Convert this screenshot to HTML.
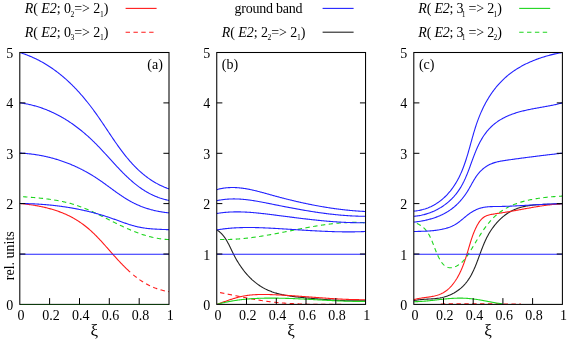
<!DOCTYPE html>
<html><head><meta charset="utf-8"><title>R(E2) ratios</title>
<style>
html,body{margin:0;padding:0;background:#fff;}
svg{display:block;will-change:transform;}
g.t{filter:grayscale(1);}
text{font-family:"Liberation Serif",serif;font-size:14px;fill:#000;}
</style></head>
<body>
<svg width="571" height="341" viewBox="0 0 571 341">
<rect width="571" height="341" fill="#fff"/>
<defs>
<clipPath id="cp0"><rect x="19.8" y="52" width="149.2" height="251.9"/></clipPath>
<clipPath id="cp1"><rect x="216.75" y="52" width="148.8" height="251.9"/></clipPath>
<clipPath id="cp2"><rect x="413.8" y="52" width="148.55" height="251.9"/></clipPath>
</defs>
<g fill="none" stroke-linecap="butt" stroke-linejoin="round">
<path d="M19.80,203.50 L20.60,203.57 L21.40,203.65 L22.20,203.73 L23.00,203.81 L23.80,203.89 L24.61,203.98 L25.41,204.07 L26.22,204.17 L27.03,204.26 L27.83,204.37 L28.64,204.47 L29.45,204.58 L30.26,204.69 L31.07,204.81 L31.89,204.93 L32.70,205.05 L33.51,205.18 L34.32,205.31 L35.13,205.45 L35.94,205.59 L36.76,205.73 L37.57,205.88 L38.38,206.03 L39.19,206.19 L40.00,206.35 L40.81,206.51 L41.62,206.68 L42.43,206.86 L43.23,207.03 L44.04,207.22 L44.84,207.40 L45.65,207.60 L46.45,207.79 L47.25,207.99 L48.05,208.20 L48.85,208.41 L49.65,208.63 L50.45,208.85 L51.24,209.07 L52.03,209.30 L52.82,209.54 L53.61,209.78 L54.40,210.02 L55.18,210.27 L55.96,210.53 L56.74,210.79 L57.52,211.06 L58.29,211.33 L59.07,211.61 L59.83,211.89 L60.60,212.18 L61.36,212.47 L62.12,212.77 L62.88,213.08 L63.64,213.39 L64.39,213.71 L65.14,214.03 L65.88,214.36 L66.62,214.69 L67.36,215.04 L68.09,215.38 L68.82,215.74 L69.55,216.09 L70.27,216.46 L70.99,216.83 L71.70,217.21 L72.41,217.59 L73.12,217.98 L73.82,218.38 L74.52,218.78 L75.22,219.19 L75.91,219.60 L76.59,220.02 L77.28,220.44 L77.96,220.87 L78.63,221.31 L79.30,221.75 L79.97,222.20 L80.63,222.65 L81.29,223.11 L81.95,223.58 L82.60,224.05 L83.25,224.52 L83.89,225.00 L84.53,225.49 L85.17,225.98 L85.80,226.48 L86.43,226.98 L87.05,227.49 L87.67,228.00 L88.29,228.52 L88.90,229.04 L89.51,229.57 L90.12,230.10 L90.72,230.64 L91.32,231.18 L91.91,231.73 L92.50,232.28 L93.09,232.84 L93.67,233.40 L94.26,233.96 L94.83,234.53 L95.41,235.10 L95.98,235.68 L96.55,236.26 L97.12,236.84 L97.69,237.42 L98.25,238.01 L98.81,238.60 L99.37,239.20 L99.93,239.79 L100.49,240.39 L101.04,240.99 L101.59,241.60 L102.14,242.20 L102.69,242.81 L103.24,243.42 L103.79,244.03 L104.34,244.64 L104.89,245.26 L105.43,245.87 L105.98,246.49 L106.52,247.11 L107.07,247.72 L107.62,248.34 L108.16,248.96 L108.71,249.58 L109.25,250.20 L109.80,250.82 L110.34,251.44 L110.89,252.06 L111.43,252.68 L111.98,253.29 L112.53,253.91 L113.08,254.53 L113.63,255.15 L114.18,255.76 L114.73,256.38 L115.28,256.99 L115.83,257.60 L116.38,258.22 L116.94,258.83 L117.49,259.43 L118.05,260.04 L118.61,260.64 L119.17,261.25 L119.73,261.85 L120.29,262.45 L120.86,263.04 L121.43,263.64 L121.99,264.23 L122.56,264.81 L123.14,265.40 L123.71,265.98 L124.29,266.56 L124.87,267.14 L125.45,267.71 L126.03,268.28 L126.62,268.85 L127.20,269.41 L127.80,269.97 L128.39,270.52 L128.98,271.07 L129.58,271.62 L130.19,272.16" stroke="#ff1a1a" stroke-width="1.1" clip-path="url(#cp0)"/>
<path d="M130.79,272.70 L131.40,273.23 L132.01,273.76 L132.62,274.28 L133.24,274.80 L133.86,275.31 L134.48,275.82 L135.11,276.32 L135.74,276.82 L136.38,277.31 L137.02,277.80 L137.66,278.28 L138.30,278.75 L138.95,279.22 L139.61,279.68 L140.26,280.14 L140.93,280.59 L141.59,281.03 L142.26,281.47 L142.94,281.90 L143.62,282.32 L144.30,282.74 L144.99,283.15 L145.68,283.55 L146.38,283.94 L147.08,284.33 L147.79,284.71 L148.50,285.08 L149.22,285.44 L149.94,285.80 L150.67,286.14 L151.40,286.48 L152.14,286.81 L152.88,287.13 L153.63,287.45 L154.39,287.75 L155.15,288.05 L155.91,288.33 L156.68,288.61 L157.46,288.88 L158.25,289.14 L159.03,289.39 L159.83,289.63 L160.63,289.86 L161.44,290.08 L162.25,290.29 L163.07,290.49 L163.90,290.68 L164.73,290.86 L165.57,291.03 L166.42,291.19 L167.27,291.34 L168.13,291.47 L169.00,291.60" stroke="#ff1a1a" stroke-width="1.1" stroke-dasharray="4.4 3.45" stroke-dashoffset="4.6" clip-path="url(#cp0)"/>
<path d="M19.80,196.50 L20.51,196.55 L21.22,196.60 L21.94,196.65 L22.65,196.69 L23.37,196.74 L24.08,196.79 L24.79,196.84 L25.51,196.89 L26.22,196.95 L26.94,197.00 L27.66,197.05 L28.37,197.11 L29.09,197.16 L29.80,197.22 L30.52,197.27 L31.24,197.33 L31.96,197.39 L32.67,197.45 L33.39,197.51 L34.11,197.57 L34.82,197.63 L35.54,197.70 L36.26,197.76 L36.97,197.83 L37.69,197.90 L38.41,197.97 L39.13,198.04 L39.84,198.11 L40.56,198.19 L41.28,198.26 L41.99,198.34 L42.71,198.42 L43.42,198.50 L44.14,198.58 L44.85,198.67 L45.57,198.76 L46.28,198.84 L47.00,198.94 L47.71,199.03 L48.42,199.12 L49.13,199.22 L49.85,199.32 L50.56,199.42 L51.27,199.53 L51.98,199.63 L52.69,199.74 L53.40,199.85 L54.11,199.97 L54.82,200.09 L55.52,200.20 L56.23,200.33 L56.94,200.45 L57.64,200.58 L58.35,200.71 L59.05,200.84 L59.75,200.98 L60.45,201.12 L61.16,201.26 L61.86,201.40 L62.56,201.55 L63.25,201.70 L63.95,201.86 L64.65,202.02 L65.34,202.18 L66.04,202.34 L66.73,202.51 L67.42,202.68 L68.12,202.85 L68.81,203.03 L69.49,203.21 L70.18,203.40 L70.87,203.59 L71.55,203.78 L72.24,203.98 L72.92,204.18 L73.60,204.38 L74.28,204.59 L74.96,204.80 L75.64,205.02 L76.32,205.24 L76.99,205.47 L77.66,205.69 L78.34,205.93 L79.01,206.16 L79.68,206.40 L80.34,206.65 L81.01,206.89 L81.68,207.15 L82.34,207.40 L83.00,207.66 L83.67,207.92 L84.33,208.18 L84.99,208.45 L85.65,208.72 L86.31,208.99 L86.96,209.27 L87.62,209.55 L88.27,209.83 L88.93,210.11 L89.58,210.40 L90.23,210.69 L90.89,210.98 L91.54,211.27 L92.19,211.57 L92.84,211.87 L93.49,212.17 L94.14,212.47 L94.78,212.77 L95.43,213.08 L96.08,213.38 L96.72,213.69 L97.37,214.00 L98.01,214.31 L98.66,214.63 L99.30,214.94 L99.95,215.25 L100.59,215.57 L101.23,215.89 L101.88,216.21 L102.52,216.52 L103.16,216.84 L103.80,217.16 L104.45,217.48 L105.09,217.81 L105.73,218.13 L106.37,218.45 L107.01,218.77 L107.65,219.09 L108.30,219.42 L108.94,219.74 L109.58,220.06 L110.22,220.38 L110.86,220.70 L111.50,221.03 L112.15,221.35 L112.79,221.67 L113.43,221.99 L114.07,222.31 L114.72,222.63 L115.36,222.94 L116.00,223.26 L116.65,223.58 L117.29,223.89 L117.94,224.20 L118.58,224.52 L119.23,224.83 L119.87,225.14 L120.52,225.45 L121.17,225.76 L121.81,226.06 L122.46,226.37 L123.11,226.67 L123.76,226.97 L124.41,227.27 L125.06,227.57 L125.71,227.86 L126.36,228.16 L127.01,228.45 L127.66,228.74 L128.32,229.03 L128.97,229.31 L129.63,229.59 L130.28,229.87 L130.94,230.15 L131.60,230.43 L132.26,230.70 L132.92,230.97 L133.58,231.24 L134.24,231.50 L134.90,231.76 L135.56,232.02 L136.23,232.28 L136.89,232.53 L137.56,232.78 L138.23,233.03 L138.89,233.27 L139.56,233.51 L140.23,233.74 L140.91,233.98 L141.58,234.21 L142.25,234.43 L142.93,234.65 L143.61,234.87 L144.28,235.08 L144.96,235.29 L145.64,235.50 L146.33,235.70 L147.01,235.90 L147.69,236.09 L148.38,236.28 L149.07,236.47 L149.76,236.65 L150.45,236.82 L151.14,237.00 L151.83,237.16 L152.53,237.33 L153.23,237.48 L153.92,237.64 L154.62,237.78 L155.33,237.93 L156.03,238.06 L156.73,238.20 L157.44,238.32 L158.15,238.45 L158.86,238.56 L159.57,238.67 L160.29,238.78 L161.00,238.88 L161.72,238.97 L162.44,239.06 L163.16,239.15 L163.88,239.22 L164.61,239.30 L165.33,239.36 L166.06,239.42 L166.80,239.48 L167.53,239.52 L168.26,239.56 L169.00,239.60" stroke="#1fd51f" stroke-width="1.1" stroke-dasharray="4.4 3.45" stroke-dashoffset="4.6" clip-path="url(#cp0)"/>
<path d="M19.80,52.50 L20.73,52.79 L21.66,53.10 L22.58,53.40 L23.50,53.72 L24.41,54.04 L25.32,54.37 L26.22,54.71 L27.12,55.05 L28.01,55.40 L28.90,55.76 L29.79,56.12 L30.67,56.49 L31.54,56.87 L32.41,57.25 L33.28,57.64 L34.14,58.03 L35.00,58.44 L35.85,58.85 L36.70,59.26 L37.55,59.68 L38.39,60.11 L39.22,60.54 L40.05,60.98 L40.88,61.43 L41.70,61.88 L42.52,62.34 L43.34,62.80 L44.15,63.27 L44.95,63.75 L45.75,64.23 L46.55,64.71 L47.34,65.21 L48.13,65.71 L48.92,66.21 L49.70,66.72 L50.48,67.23 L51.25,67.75 L52.02,68.28 L52.78,68.81 L53.55,69.34 L54.30,69.89 L55.06,70.43 L55.81,70.98 L56.55,71.54 L57.29,72.10 L58.03,72.67 L58.77,73.24 L59.50,73.82 L60.22,74.40 L60.95,74.98 L61.67,75.57 L62.38,76.17 L63.09,76.77 L63.80,77.37 L64.51,77.98 L65.21,78.60 L65.91,79.21 L66.60,79.84 L67.29,80.46 L67.98,81.09 L68.66,81.73 L69.34,82.37 L70.02,83.01 L70.69,83.66 L71.36,84.31 L72.03,84.97 L72.69,85.63 L73.36,86.29 L74.01,86.96 L74.67,87.63 L75.32,88.30 L75.96,88.98 L76.61,89.66 L77.25,90.35 L77.89,91.04 L78.52,91.73 L79.15,92.43 L79.78,93.13 L80.41,93.83 L81.03,94.54 L81.65,95.25 L82.27,95.96 L82.88,96.67 L83.49,97.39 L84.10,98.12 L84.70,98.84 L85.30,99.57 L85.90,100.30 L86.50,101.03 L87.09,101.77 L87.68,102.51 L88.27,103.25 L88.86,104.00 L89.44,104.74 L90.02,105.49 L90.60,106.24 L91.17,107.00 L91.74,107.76 L92.31,108.52 L92.88,109.28 L93.45,110.04 L94.01,110.81 L94.57,111.58 L95.12,112.35 L95.68,113.12 L96.23,113.89 L96.78,114.67 L97.33,115.45 L97.87,116.23 L98.42,117.01 L98.96,117.79 L99.50,118.58 L100.04,119.36 L100.58,120.15 L101.11,120.94 L101.65,121.72 L102.18,122.51 L102.71,123.30 L103.25,124.09 L103.78,124.89 L104.31,125.68 L104.84,126.47 L105.37,127.26 L105.89,128.05 L106.42,128.85 L106.95,129.64 L107.48,130.43 L108.01,131.22 L108.53,132.01 L109.06,132.80 L109.59,133.59 L110.12,134.38 L110.65,135.17 L111.18,135.96 L111.71,136.75 L112.24,137.53 L112.77,138.32 L113.31,139.10 L113.84,139.88 L114.37,140.66 L114.91,141.44 L115.45,142.22 L115.99,143.00 L116.53,143.77 L117.07,144.54 L117.62,145.31 L118.17,146.08 L118.71,146.84 L119.26,147.61 L119.82,148.37 L120.37,149.12 L120.93,149.88 L121.49,150.63 L122.05,151.38 L122.62,152.13 L123.19,152.87 L123.76,153.61 L124.34,154.35 L124.91,155.08 L125.49,155.81 L126.08,156.54 L126.67,157.26 L127.26,157.98 L127.85,158.70 L128.45,159.41 L129.05,160.11 L129.66,160.82 L130.27,161.52 L130.89,162.21 L131.51,162.90 L132.13,163.59 L132.76,164.27 L133.39,164.94 L134.03,165.61 L134.67,166.28 L135.32,166.94 L135.97,167.60 L136.63,168.25 L137.29,168.89 L137.96,169.53 L138.63,170.17 L139.31,170.79 L139.99,171.42 L140.68,172.03 L141.38,172.64 L142.08,173.25 L142.78,173.84 L143.50,174.43 L144.21,175.02 L144.94,175.60 L145.67,176.17 L146.41,176.73 L147.15,177.29 L147.90,177.84 L148.66,178.38 L149.42,178.91 L150.19,179.44 L150.97,179.96 L151.75,180.47 L152.54,180.98 L153.34,181.47 L154.14,181.96 L154.96,182.44 L155.78,182.91 L156.60,183.38 L157.44,183.83 L158.28,184.28 L159.13,184.71 L159.99,185.14 L160.85,185.56 L161.72,185.97 L162.60,186.37 L163.49,186.76 L164.39,187.14 L165.30,187.51 L166.21,187.87 L167.13,188.23 L168.06,188.57 L169.00,188.90" stroke="#2222ff" stroke-width="1.1" clip-path="url(#cp0)"/>
<path d="M19.80,102.80 L20.66,102.92 L21.51,103.04 L22.36,103.17 L23.21,103.31 L24.06,103.45 L24.90,103.60 L25.74,103.76 L26.58,103.92 L27.41,104.08 L28.24,104.26 L29.07,104.44 L29.90,104.62 L30.72,104.81 L31.54,105.01 L32.36,105.22 L33.18,105.43 L33.99,105.64 L34.80,105.86 L35.61,106.09 L36.41,106.32 L37.21,106.56 L38.01,106.80 L38.81,107.05 L39.60,107.31 L40.39,107.57 L41.18,107.84 L41.96,108.11 L42.75,108.39 L43.53,108.67 L44.30,108.96 L45.08,109.25 L45.85,109.55 L46.62,109.85 L47.39,110.16 L48.15,110.48 L48.91,110.80 L49.67,111.12 L50.42,111.45 L51.18,111.79 L51.93,112.13 L52.68,112.48 L53.42,112.83 L54.16,113.18 L54.90,113.54 L55.64,113.91 L56.38,114.28 L57.11,114.65 L57.84,115.03 L58.57,115.41 L59.29,115.80 L60.01,116.20 L60.73,116.60 L61.45,117.00 L62.16,117.41 L62.88,117.82 L63.59,118.23 L64.29,118.65 L65.00,119.08 L65.70,119.51 L66.40,119.94 L67.10,120.38 L67.79,120.82 L68.48,121.27 L69.17,121.72 L69.86,122.18 L70.55,122.64 L71.23,123.10 L71.91,123.57 L72.58,124.04 L73.26,124.51 L73.93,124.99 L74.60,125.48 L75.27,125.96 L75.94,126.45 L76.60,126.95 L77.26,127.45 L77.92,127.95 L78.57,128.45 L79.23,128.96 L79.88,129.48 L80.53,129.99 L81.17,130.51 L81.82,131.04 L82.46,131.57 L83.10,132.10 L83.74,132.63 L84.37,133.17 L85.00,133.71 L85.63,134.25 L86.26,134.80 L86.89,135.35 L87.51,135.91 L88.13,136.46 L88.75,137.02 L89.37,137.59 L89.98,138.15 L90.59,138.72 L91.20,139.29 L91.81,139.87 L92.41,140.45 L93.02,141.03 L93.62,141.61 L94.22,142.20 L94.81,142.79 L95.41,143.38 L96.00,143.98 L96.59,144.57 L97.18,145.17 L97.76,145.78 L98.35,146.38 L98.93,146.98 L99.51,147.59 L100.09,148.20 L100.67,148.81 L101.25,149.43 L101.82,150.04 L102.40,150.66 L102.97,151.27 L103.54,151.89 L104.12,152.51 L104.69,153.13 L105.26,153.75 L105.83,154.37 L106.39,154.99 L106.96,155.62 L107.53,156.24 L108.10,156.86 L108.66,157.49 L109.23,158.11 L109.79,158.73 L110.36,159.36 L110.93,159.98 L111.49,160.60 L112.06,161.22 L112.63,161.84 L113.19,162.46 L113.76,163.08 L114.33,163.70 L114.90,164.32 L115.46,164.93 L116.03,165.55 L116.60,166.16 L117.18,166.77 L117.75,167.38 L118.32,167.99 L118.89,168.60 L119.47,169.20 L120.05,169.81 L120.62,170.41 L121.20,171.00 L121.78,171.60 L122.37,172.19 L122.95,172.78 L123.53,173.37 L124.12,173.96 L124.71,174.54 L125.30,175.12 L125.89,175.69 L126.49,176.27 L127.09,176.83 L127.69,177.40 L128.29,177.96 L128.89,178.52 L129.50,179.07 L130.11,179.62 L130.72,180.17 L131.34,180.71 L131.95,181.25 L132.57,181.78 L133.20,182.31 L133.82,182.84 L134.45,183.36 L135.09,183.87 L135.72,184.38 L136.36,184.89 L137.00,185.39 L137.65,185.88 L138.30,186.37 L138.95,186.85 L139.61,187.33 L140.27,187.80 L140.94,188.27 L141.61,188.73 L142.28,189.18 L142.96,189.63 L143.64,190.07 L144.32,190.51 L145.01,190.94 L145.71,191.36 L146.41,191.77 L147.11,192.18 L147.82,192.58 L148.53,192.98 L149.25,193.37 L149.97,193.75 L150.70,194.12 L151.43,194.48 L152.17,194.84 L152.92,195.19 L153.66,195.53 L154.42,195.87 L155.18,196.19 L155.94,196.51 L156.71,196.82 L157.49,197.12 L158.27,197.42 L159.06,197.70 L159.85,197.98 L160.65,198.24 L161.46,198.50 L162.27,198.75 L163.09,198.99 L163.91,199.22 L164.75,199.44 L165.58,199.65 L166.43,199.85 L167.28,200.05 L168.14,200.23 L169.00,200.40" stroke="#2222ff" stroke-width="1.1" clip-path="url(#cp0)"/>
<path d="M19.80,153.10 L20.55,153.14 L21.31,153.17 L22.06,153.21 L22.82,153.26 L23.57,153.31 L24.32,153.36 L25.07,153.42 L25.82,153.48 L26.57,153.54 L27.32,153.61 L28.07,153.68 L28.82,153.76 L29.56,153.84 L30.31,153.92 L31.05,154.01 L31.80,154.10 L32.54,154.19 L33.29,154.29 L34.03,154.39 L34.77,154.50 L35.51,154.61 L36.25,154.72 L36.99,154.84 L37.73,154.96 L38.46,155.08 L39.20,155.21 L39.94,155.34 L40.67,155.48 L41.40,155.61 L42.14,155.76 L42.87,155.90 L43.60,156.05 L44.33,156.20 L45.06,156.36 L45.79,156.52 L46.51,156.68 L47.24,156.85 L47.96,157.02 L48.69,157.20 L49.41,157.38 L50.13,157.56 L50.85,157.74 L51.57,157.93 L52.29,158.12 L53.01,158.32 L53.73,158.52 L54.44,158.72 L55.15,158.93 L55.87,159.14 L56.58,159.35 L57.29,159.57 L58.00,159.79 L58.71,160.01 L59.42,160.24 L60.12,160.47 L60.83,160.70 L61.53,160.94 L62.23,161.18 L62.93,161.42 L63.63,161.67 L64.33,161.92 L65.03,162.18 L65.73,162.43 L66.42,162.70 L67.12,162.96 L67.81,163.23 L68.50,163.50 L69.19,163.77 L69.88,164.05 L70.56,164.33 L71.25,164.62 L71.93,164.91 L72.62,165.20 L73.30,165.49 L73.98,165.79 L74.66,166.09 L75.33,166.40 L76.01,166.71 L76.68,167.02 L77.36,167.33 L78.03,167.65 L78.70,167.97 L79.37,168.30 L80.03,168.62 L80.70,168.95 L81.36,169.29 L82.02,169.63 L82.69,169.97 L83.34,170.31 L84.00,170.66 L84.66,171.01 L85.31,171.36 L85.97,171.72 L86.62,172.08 L87.27,172.44 L87.91,172.81 L88.56,173.18 L89.21,173.55 L89.85,173.92 L90.49,174.30 L91.13,174.69 L91.77,175.07 L92.40,175.46 L93.04,175.85 L93.67,176.24 L94.30,176.64 L94.93,177.04 L95.56,177.45 L96.18,177.85 L96.81,178.26 L97.43,178.68 L98.05,179.09 L98.67,179.51 L99.29,179.93 L99.90,180.36 L100.52,180.78 L101.13,181.21 L101.74,181.64 L102.35,182.07 L102.96,182.50 L103.57,182.94 L104.18,183.38 L104.78,183.81 L105.39,184.25 L106.00,184.69 L106.60,185.13 L107.21,185.58 L107.81,186.02 L108.41,186.46 L109.02,186.90 L109.62,187.35 L110.22,187.79 L110.83,188.23 L111.43,188.67 L112.03,189.12 L112.64,189.56 L113.24,190.00 L113.85,190.44 L114.45,190.87 L115.06,191.31 L115.66,191.75 L116.27,192.18 L116.88,192.61 L117.48,193.05 L118.09,193.47 L118.70,193.90 L119.31,194.32 L119.93,194.75 L120.54,195.17 L121.16,195.58 L121.77,196.00 L122.39,196.41 L123.01,196.82 L123.63,197.22 L124.26,197.62 L124.88,198.02 L125.51,198.41 L126.14,198.80 L126.77,199.19 L127.40,199.57 L128.04,199.95 L128.67,200.32 L129.31,200.69 L129.96,201.05 L130.60,201.41 L131.25,201.76 L131.90,202.11 L132.55,202.45 L133.21,202.79 L133.87,203.12 L134.53,203.45 L135.19,203.77 L135.86,204.09 L136.53,204.40 L137.20,204.70 L137.88,205.00 L138.56,205.29 L139.24,205.58 L139.92,205.87 L140.61,206.14 L141.29,206.42 L141.98,206.68 L142.68,206.94 L143.37,207.20 L144.07,207.45 L144.77,207.70 L145.47,207.94 L146.18,208.17 L146.88,208.40 L147.59,208.63 L148.31,208.85 L149.02,209.06 L149.73,209.27 L150.45,209.48 L151.17,209.67 L151.89,209.87 L152.62,210.06 L153.34,210.24 L154.07,210.42 L154.80,210.59 L155.53,210.76 L156.27,210.92 L157.00,211.08 L157.74,211.23 L158.48,211.37 L159.22,211.52 L159.96,211.65 L160.71,211.78 L161.45,211.91 L162.20,212.03 L162.95,212.15 L163.70,212.26 L164.46,212.37 L165.21,212.47 L165.96,212.56 L166.72,212.65 L167.48,212.74 L168.24,212.82 L169.00,212.90" stroke="#2222ff" stroke-width="1.1" clip-path="url(#cp0)"/>
<path d="M19.80,203.50 L20.50,203.51 L21.20,203.51 L21.90,203.52 L22.60,203.53 L23.30,203.54 L23.99,203.56 L24.69,203.57 L25.39,203.58 L26.09,203.60 L26.79,203.62 L27.49,203.64 L28.18,203.66 L28.88,203.68 L29.58,203.71 L30.28,203.73 L30.98,203.76 L31.67,203.78 L32.37,203.81 L33.07,203.85 L33.77,203.88 L34.46,203.91 L35.16,203.95 L35.86,203.98 L36.55,204.02 L37.25,204.06 L37.94,204.10 L38.64,204.14 L39.34,204.19 L40.03,204.23 L40.73,204.28 L41.42,204.33 L42.12,204.38 L42.81,204.43 L43.51,204.48 L44.20,204.54 L44.90,204.59 L45.59,204.65 L46.28,204.71 L46.98,204.77 L47.67,204.83 L48.37,204.90 L49.06,204.96 L49.75,205.03 L50.44,205.10 L51.14,205.17 L51.83,205.24 L52.52,205.31 L53.21,205.39 L53.90,205.46 L54.59,205.54 L55.28,205.62 L55.98,205.70 L56.67,205.78 L57.36,205.87 L58.05,205.95 L58.74,206.04 L59.42,206.13 L60.11,206.22 L60.80,206.31 L61.49,206.41 L62.18,206.50 L62.87,206.60 L63.55,206.70 L64.24,206.80 L64.93,206.90 L65.62,207.00 L66.30,207.11 L66.99,207.22 L67.67,207.33 L68.36,207.44 L69.04,207.55 L69.73,207.66 L70.41,207.78 L71.10,207.89 L71.78,208.01 L72.46,208.13 L73.15,208.26 L73.83,208.38 L74.51,208.51 L75.19,208.63 L75.88,208.76 L76.56,208.89 L77.24,209.03 L77.92,209.16 L78.60,209.30 L79.28,209.43 L79.96,209.57 L80.64,209.72 L81.32,209.86 L81.99,210.00 L82.67,210.15 L83.35,210.30 L84.03,210.45 L84.70,210.60 L85.38,210.76 L86.06,210.91 L86.73,211.07 L87.41,211.23 L88.08,211.39 L88.75,211.55 L89.43,211.72 L90.10,211.88 L90.77,212.05 L91.45,212.22 L92.12,212.39 L92.79,212.57 L93.46,212.74 L94.13,212.92 L94.80,213.10 L95.47,213.28 L96.14,213.47 L96.81,213.65 L97.48,213.84 L98.15,214.03 L98.81,214.22 L99.48,214.41 L100.15,214.60 L100.81,214.80 L101.48,215.00 L102.14,215.20 L102.81,215.40 L103.47,215.61 L104.13,215.81 L104.80,216.02 L105.46,216.23 L106.12,216.44 L106.78,216.66 L107.44,216.87 L108.10,217.09 L108.76,217.31 L109.42,217.53 L110.08,217.75 L110.74,217.98 L111.40,218.21 L112.05,218.44 L112.71,218.67 L113.37,218.90 L114.02,219.13 L114.68,219.37 L115.33,219.60 L115.99,219.84 L116.64,220.08 L117.30,220.32 L117.95,220.56 L118.61,220.79 L119.26,221.03 L119.91,221.27 L120.57,221.51 L121.22,221.74 L121.88,221.98 L122.53,222.21 L123.19,222.44 L123.85,222.68 L124.50,222.91 L125.16,223.13 L125.82,223.36 L126.47,223.58 L127.13,223.80 L127.79,224.02 L128.45,224.24 L129.11,224.45 L129.77,224.66 L130.44,224.86 L131.10,225.07 L131.76,225.27 L132.43,225.46 L133.09,225.65 L133.76,225.84 L134.43,226.02 L135.10,226.19 L135.77,226.36 L136.44,226.53 L137.12,226.69 L137.79,226.85 L138.47,227.00 L139.15,227.14 L139.82,227.28 L140.51,227.41 L141.19,227.54 L141.87,227.66 L142.56,227.77 L143.24,227.88 L143.93,227.98 L144.62,228.08 L145.31,228.18 L146.00,228.27 L146.69,228.35 L147.38,228.44 L148.08,228.51 L148.77,228.58 L149.47,228.65 L150.16,228.72 L150.86,228.78 L151.56,228.84 L152.26,228.90 L152.95,228.95 L153.65,229.00 L154.35,229.04 L155.05,229.09 L155.75,229.13 L156.45,229.17 L157.15,229.21 L157.85,229.24 L158.55,229.28 L159.25,229.31 L159.95,229.34 L160.65,229.37 L161.34,229.40 L162.04,229.43 L162.74,229.46 L163.44,229.48 L164.14,229.51 L164.83,229.54 L165.53,229.56 L166.23,229.59 L166.92,229.62 L167.61,229.64 L168.31,229.67 L169.00,229.70" stroke="#2222ff" stroke-width="1.1" clip-path="url(#cp0)"/>
<path d="M19.80,254.25 L169.00,254.25" stroke="#2222ff" stroke-width="1.1" clip-path="url(#cp0)"/>
<path d="M216.80,229.90 L217.50,230.34 L218.17,230.81 L218.83,231.29 L219.46,231.79 L220.07,232.31 L220.66,232.84 L221.23,233.39 L221.79,233.96 L222.32,234.54 L222.84,235.13 L223.35,235.74 L223.84,236.36 L224.31,236.99 L224.78,237.64 L225.22,238.29 L225.66,238.96 L226.09,239.64 L226.51,240.32 L226.91,241.02 L227.31,241.72 L227.70,242.43 L228.09,243.14 L228.47,243.87 L228.84,244.59 L229.21,245.33 L229.57,246.07 L229.93,246.81 L230.29,247.55 L230.65,248.30 L231.01,249.05 L231.37,249.80 L231.72,250.55 L232.08,251.31 L232.45,252.06 L232.81,252.81 L233.18,253.56 L233.56,254.30 L233.94,255.05 L234.33,255.79 L234.72,256.53 L235.12,257.26 L235.52,258.00 L235.93,258.73 L236.34,259.45 L236.76,260.17 L237.18,260.89 L237.61,261.61 L238.05,262.32 L238.49,263.03 L238.94,263.73 L239.39,264.43 L239.85,265.12 L240.31,265.81 L240.78,266.50 L241.25,267.18 L241.73,267.85 L242.22,268.52 L242.71,269.18 L243.21,269.84 L243.71,270.50 L244.22,271.14 L244.73,271.79 L245.25,272.42 L245.77,273.05 L246.30,273.67 L246.84,274.29 L247.38,274.90 L247.93,275.50 L248.48,276.10 L249.04,276.69 L249.61,277.27 L250.18,277.85 L250.76,278.42 L251.34,278.98 L251.93,279.53 L252.52,280.08 L253.12,280.61 L253.73,281.14 L254.34,281.66 L254.96,282.17 L255.58,282.68 L256.21,283.17 L256.85,283.66 L257.49,284.14 L258.14,284.61 L258.79,285.07 L259.45,285.52 L260.12,285.96 L260.79,286.39 L261.46,286.81 L262.15,287.22 L262.84,287.62 L263.53,288.01 L264.24,288.39 L264.94,288.76 L265.66,289.12 L266.38,289.47 L267.10,289.81 L267.84,290.14 L268.57,290.46 L269.32,290.77 L270.06,291.07 L270.82,291.36 L271.58,291.64 L272.34,291.92 L273.11,292.18 L273.88,292.44 L274.65,292.68 L275.43,292.92 L276.22,293.15 L277.01,293.38 L277.80,293.59 L278.60,293.80 L279.40,294.00 L280.20,294.20 L281.00,294.38 L281.81,294.57 L282.63,294.74 L283.44,294.91 L284.26,295.07 L285.08,295.23 L285.90,295.38 L286.72,295.53 L287.55,295.67 L288.38,295.80 L289.21,295.93 L290.04,296.06 L290.87,296.18 L291.70,296.30 L292.54,296.42 L293.37,296.53 L294.21,296.63 L295.05,296.74 L295.88,296.84 L296.72,296.93 L297.56,297.03 L298.40,297.12 L299.23,297.21 L300.07,297.30 L300.91,297.38 L301.74,297.46 L302.58,297.55 L303.41,297.63 L304.25,297.71 L305.08,297.78 L305.91,297.86 L306.74,297.94 L307.57,298.01 L308.40,298.09 L309.22,298.16 L310.04,298.24 L310.86,298.31 L311.68,298.39 L312.50,298.46 L313.32,298.54 L314.14,298.61 L314.95,298.68 L315.76,298.75 L316.58,298.82 L317.39,298.89 L318.20,298.96 L319.01,299.03 L319.82,299.10 L320.62,299.17 L321.43,299.23 L322.24,299.30 L323.04,299.36 L323.85,299.43 L324.65,299.49 L325.45,299.55 L326.26,299.61 L327.06,299.67 L327.86,299.73 L328.67,299.79 L329.47,299.85 L330.27,299.90 L331.07,299.96 L331.87,300.01 L332.68,300.06 L333.48,300.11 L334.28,300.16 L335.08,300.21 L335.89,300.25 L336.69,300.30 L337.49,300.34 L338.30,300.38 L339.10,300.42 L339.91,300.46 L340.71,300.50 L341.52,300.53 L342.33,300.57 L343.14,300.60 L343.95,300.63 L344.76,300.66 L345.57,300.69 L346.38,300.71 L347.19,300.73 L348.01,300.75 L348.83,300.77 L349.64,300.79 L350.46,300.81 L351.28,300.82 L352.10,300.83 L352.93,300.84 L353.75,300.85 L354.58,300.85 L355.41,300.85 L356.24,300.85 L357.07,300.85 L357.90,300.85 L358.74,300.84 L359.57,300.83 L360.41,300.82 L361.26,300.81 L362.10,300.79 L362.95,300.77 L363.80,300.75 L364.65,300.73 L365.50,300.70" stroke="#222222" stroke-width="1.1" clip-path="url(#cp1)"/>
<path d="M216.80,304.40 L217.45,304.18 L218.09,303.95 L218.74,303.72 L219.38,303.49 L220.03,303.26 L220.68,303.03 L221.32,302.80 L221.97,302.57 L222.61,302.33 L223.26,302.10 L223.91,301.87 L224.55,301.63 L225.20,301.40 L225.85,301.17 L226.49,300.94 L227.14,300.71 L227.79,300.49 L228.44,300.26 L229.09,300.04 L229.74,299.82 L230.39,299.60 L231.04,299.39 L231.69,299.18 L232.34,298.97 L233.00,298.76 L233.65,298.56 L234.31,298.36 L234.96,298.17 L235.62,297.98 L236.27,297.79 L236.93,297.61 L237.59,297.43 L238.25,297.26 L238.91,297.09 L239.57,296.92 L240.23,296.77 L240.89,296.61 L241.56,296.46 L242.22,296.32 L242.89,296.19 L243.55,296.05 L244.22,295.93 L244.89,295.81 L245.56,295.70 L246.23,295.59 L246.90,295.49 L247.57,295.39 L248.25,295.30 L248.92,295.22 L249.60,295.14 L250.27,295.07 L250.95,295.00 L251.63,294.93 L252.30,294.87 L252.98,294.82 L253.66,294.77 L254.34,294.72 L255.02,294.68 L255.71,294.64 L256.39,294.61 L257.07,294.58 L257.75,294.56 L258.44,294.53 L259.12,294.52 L259.80,294.50 L260.49,294.49 L261.17,294.48 L261.86,294.47 L262.55,294.47 L263.23,294.47 L263.92,294.47 L264.61,294.48 L265.29,294.49 L265.98,294.50 L266.67,294.51 L267.36,294.52 L268.04,294.54 L268.73,294.55 L269.42,294.57 L270.11,294.59 L270.79,294.62 L271.48,294.64 L272.17,294.66 L272.86,294.69 L273.55,294.71 L274.23,294.74 L274.92,294.77 L275.61,294.80 L276.30,294.83 L276.98,294.86 L277.67,294.89 L278.36,294.92 L279.05,294.96 L279.73,294.99 L280.42,295.02 L281.11,295.06 L281.79,295.10 L282.48,295.13 L283.17,295.17 L283.86,295.21 L284.54,295.25 L285.23,295.29 L285.92,295.33 L286.60,295.37 L287.29,295.41 L287.98,295.45 L288.66,295.49 L289.35,295.54 L290.03,295.58 L290.72,295.62 L291.41,295.67 L292.09,295.71 L292.78,295.76 L293.47,295.81 L294.15,295.85 L294.84,295.90 L295.53,295.95 L296.21,295.99 L296.90,296.04 L297.58,296.09 L298.27,296.14 L298.96,296.19 L299.64,296.24 L300.33,296.29 L301.01,296.34 L301.70,296.39 L302.38,296.44 L303.07,296.49 L303.76,296.54 L304.44,296.59 L305.13,296.64 L305.81,296.69 L306.50,296.74 L307.18,296.79 L307.87,296.85 L308.56,296.90 L309.24,296.95 L309.93,297.00 L310.61,297.05 L311.30,297.10 L311.98,297.16 L312.67,297.21 L313.36,297.26 L314.04,297.31 L314.73,297.36 L315.41,297.41 L316.10,297.46 L316.78,297.51 L317.47,297.57 L318.15,297.62 L318.84,297.67 L319.52,297.72 L320.21,297.77 L320.90,297.82 L321.58,297.87 L322.27,297.91 L322.95,297.96 L323.64,298.01 L324.32,298.06 L325.01,298.11 L325.69,298.16 L326.38,298.20 L327.07,298.25 L327.75,298.30 L328.44,298.34 L329.12,298.39 L329.81,298.43 L330.49,298.48 L331.18,298.52 L331.86,298.56 L332.55,298.61 L333.24,298.65 L333.92,298.69 L334.61,298.73 L335.29,298.77 L335.98,298.81 L336.66,298.85 L337.35,298.89 L338.04,298.93 L338.72,298.97 L339.41,299.00 L340.09,299.04 L340.78,299.08 L341.47,299.11 L342.15,299.14 L342.84,299.18 L343.52,299.21 L344.21,299.24 L344.90,299.27 L345.58,299.30 L346.27,299.33 L346.95,299.36 L347.64,299.38 L348.33,299.41 L349.01,299.43 L349.70,299.46 L350.39,299.48 L351.07,299.50 L351.76,299.52 L352.45,299.54 L353.13,299.56 L353.82,299.58 L354.51,299.60 L355.19,299.61 L355.88,299.63 L356.57,299.64 L357.25,299.65 L357.94,299.66 L358.63,299.67 L359.31,299.68 L360.00,299.69 L360.69,299.69 L361.38,299.70 L362.06,299.70 L362.75,299.70 L363.44,299.70 L364.12,299.70 L364.81,299.70 L365.50,299.70" stroke="#ff1a1a" stroke-width="1.1" clip-path="url(#cp1)"/>
<path d="M216.80,292.00 L217.47,292.12 L218.14,292.24 L218.81,292.37 L219.48,292.50 L220.15,292.62 L220.82,292.75 L221.49,292.88 L222.16,293.01 L222.83,293.14 L223.50,293.27 L224.17,293.40 L224.84,293.53 L225.51,293.67 L226.18,293.80 L226.85,293.93 L227.52,294.07 L228.19,294.20 L228.86,294.34 L229.53,294.47 L230.20,294.61 L230.87,294.74 L231.54,294.88 L232.21,295.01 L232.88,295.15 L233.55,295.29 L234.22,295.42 L234.89,295.56 L235.56,295.70 L236.23,295.83 L236.90,295.97 L237.57,296.10 L238.24,296.24 L238.91,296.38 L239.58,296.51 L240.25,296.65 L240.92,296.78 L241.59,296.92 L242.26,297.05 L242.93,297.18 L243.61,297.32 L244.28,297.45 L244.95,297.58 L245.62,297.71 L246.29,297.84 L246.96,297.97 L247.63,298.10 L248.30,298.23 L248.97,298.36 L249.65,298.48 L250.32,298.61 L250.99,298.73 L251.66,298.86 L252.33,298.98 L253.00,299.10 L253.68,299.22 L254.35,299.34 L255.02,299.46 L255.69,299.58 L256.37,299.70 L257.04,299.81 L257.71,299.92 L258.39,300.04 L259.06,300.15 L259.73,300.26 L260.41,300.36 L261.08,300.47 L261.76,300.58 L262.43,300.68 L263.10,300.78 L263.78,300.88 L264.45,300.98 L265.13,301.07 L265.81,301.17 L266.48,301.26 L267.16,301.35 L267.83,301.44 L268.51,301.53 L269.19,301.62 L269.86,301.70 L270.54,301.78 L271.22,301.86 L271.89,301.94 L272.57,302.02 L273.25,302.09 L273.93,302.17 L274.61,302.24 L275.28,302.31 L275.96,302.38 L276.64,302.45 L277.32,302.52 L278.00,302.58 L278.68,302.64 L279.36,302.71 L280.04,302.77 L280.72,302.83 L281.40,302.88 L282.08,302.94 L282.76,302.99 L283.44,303.05 L284.12,303.10 L284.80,303.15 L285.48,303.20 L286.16,303.25 L286.84,303.29 L287.52,303.34 L288.20,303.38 L288.88,303.43 L289.57,303.47 L290.25,303.51 L290.93,303.55 L291.61,303.59 L292.29,303.62 L292.98,303.66 L293.66,303.69 L294.34,303.73 L295.02,303.76 L295.71,303.79 L296.39,303.82 L297.07,303.85 L297.75,303.88 L298.44,303.91 L299.12,303.93 L299.80,303.96 L300.49,303.98 L301.17,304.01 L301.85,304.03 L302.54,304.05 L303.22,304.07 L303.91,304.09 L304.59,304.11 L305.27,304.13 L305.96,304.15 L306.64,304.16 L307.33,304.18 L308.01,304.19 L308.69,304.21 L309.38,304.22 L310.06,304.23 L310.75,304.25 L311.43,304.26 L312.12,304.27 L312.80,304.28 L313.49,304.29 L314.17,304.30 L314.86,304.31 L315.54,304.31 L316.23,304.32 L316.91,304.33 L317.60,304.33 L318.28,304.34 L318.97,304.34 L319.65,304.35 L320.34,304.35 L321.02,304.35 L321.71,304.36 L322.39,304.36 L323.08,304.36 L323.76,304.36 L324.45,304.37 L325.13,304.37 L325.82,304.37 L326.50,304.37 L327.19,304.37 L327.88,304.37 L328.56,304.37 L329.25,304.37 L329.93,304.37 L330.62,304.36 L331.30,304.36 L331.99,304.36 L332.67,304.36 L333.36,304.36 L334.04,304.36 L334.73,304.35 L335.41,304.35 L336.10,304.35 L336.78,304.35 L337.47,304.34 L338.15,304.34 L338.84,304.34 L339.52,304.34 L340.21,304.33 L340.89,304.33 L341.58,304.33" stroke="#ff1a1a" stroke-width="1.1" stroke-dasharray="4.4 3.45" stroke-dashoffset="4.6" clip-path="url(#cp1)"/>
<path d="M216.80,304.40 L217.46,304.22 L218.13,304.05 L218.79,303.87 L219.46,303.70 L220.12,303.54 L220.78,303.37 L221.45,303.21 L222.12,303.05 L222.78,302.89 L223.45,302.74 L224.11,302.59 L224.78,302.44 L225.45,302.30 L226.12,302.16 L226.78,302.02 L227.45,301.88 L228.12,301.75 L228.79,301.62 L229.46,301.49 L230.13,301.37 L230.80,301.24 L231.47,301.12 L232.14,301.01 L232.81,300.89 L233.48,300.78 L234.15,300.67 L234.82,300.56 L235.50,300.46 L236.17,300.36 L236.84,300.26 L237.51,300.16 L238.19,300.07 L238.86,299.98 L239.53,299.89 L240.21,299.80 L240.88,299.72 L241.56,299.64 L242.23,299.56 L242.91,299.48 L243.58,299.41 L244.26,299.34 L244.93,299.27 L245.61,299.20 L246.28,299.14 L246.96,299.07 L247.64,299.01 L248.31,298.96 L248.99,298.90 L249.67,298.85 L250.34,298.80 L251.02,298.75 L251.70,298.70 L252.38,298.66 L253.05,298.61 L253.73,298.57 L254.41,298.53 L255.09,298.50 L255.77,298.46 L256.45,298.43 L257.12,298.40 L257.80,298.37 L258.48,298.34 L259.16,298.32 L259.84,298.29 L260.52,298.27 L261.20,298.25 L261.88,298.23 L262.56,298.21 L263.24,298.19 L263.92,298.18 L264.60,298.17 L265.28,298.16 L265.96,298.14 L266.64,298.14 L267.32,298.13 L268.00,298.12 L268.68,298.12 L269.36,298.11 L270.05,298.11 L270.73,298.11 L271.41,298.11 L272.09,298.11 L272.77,298.11 L273.45,298.12 L274.13,298.12 L274.81,298.12 L275.49,298.13 L276.18,298.14 L276.86,298.15 L277.54,298.16 L278.22,298.17 L278.90,298.18 L279.58,298.19 L280.26,298.20 L280.95,298.22 L281.63,298.23 L282.31,298.25 L282.99,298.26 L283.67,298.28 L284.35,298.30 L285.04,298.32 L285.72,298.34 L286.40,298.36 L287.08,298.38 L287.76,298.40 L288.44,298.42 L289.13,298.45 L289.81,298.47 L290.49,298.50 L291.17,298.52 L291.85,298.55 L292.54,298.57 L293.22,298.60 L293.90,298.63 L294.58,298.66 L295.26,298.68 L295.95,298.71 L296.63,298.74 L297.31,298.77 L297.99,298.80 L298.68,298.84 L299.36,298.87 L300.04,298.90 L300.72,298.93 L301.40,298.97 L302.09,299.00 L302.77,299.03 L303.45,299.07 L304.13,299.10 L304.82,299.13 L305.50,299.17 L306.18,299.20 L306.86,299.24 L307.55,299.28 L308.23,299.31 L308.91,299.35 L309.59,299.38 L310.27,299.42 L310.96,299.46 L311.64,299.49 L312.32,299.53 L313.00,299.57 L313.69,299.60 L314.37,299.64 L315.05,299.68 L315.73,299.72 L316.42,299.75 L317.10,299.79 L317.78,299.83 L318.46,299.86 L319.15,299.90 L319.83,299.94 L320.51,299.98 L321.19,300.01 L321.87,300.05 L322.56,300.09 L323.24,300.12 L323.92,300.16 L324.60,300.19 L325.29,300.23 L325.97,300.27 L326.65,300.30 L327.33,300.34 L328.02,300.37 L328.70,300.41 L329.38,300.44 L330.06,300.48 L330.74,300.51 L331.43,300.54 L332.11,300.58 L332.79,300.61 L333.47,300.64 L334.16,300.67 L334.84,300.70 L335.52,300.74 L336.20,300.77 L336.88,300.80 L337.57,300.83 L338.25,300.85 L338.93,300.88 L339.61,300.91 L340.29,300.94 L340.98,300.96 L341.66,300.99 L342.34,301.02 L343.02,301.04 L343.70,301.07 L344.38,301.09 L345.07,301.11 L345.75,301.13 L346.43,301.16 L347.11,301.18 L347.79,301.20 L348.47,301.22 L349.16,301.23 L349.84,301.25 L350.52,301.27 L351.20,301.29 L351.88,301.30 L352.56,301.31 L353.24,301.33 L353.93,301.34 L354.61,301.35 L355.29,301.36 L355.97,301.37 L356.65,301.38 L357.33,301.39 L358.01,301.40 L358.69,301.40 L359.37,301.41 L360.05,301.41 L360.74,301.41 L361.42,301.41 L362.10,301.41 L362.78,301.41 L363.46,301.41 L364.14,301.41 L364.82,301.40 L365.50,301.40" stroke="#1fd51f" stroke-width="1.1" clip-path="url(#cp1)"/>
<path d="M216.80,239.40 L217.49,239.43 L218.18,239.45 L218.87,239.47 L219.56,239.49 L220.24,239.51 L220.93,239.52 L221.62,239.53 L222.31,239.54 L222.99,239.54 L223.68,239.55 L224.37,239.54 L225.05,239.54 L225.74,239.53 L226.42,239.53 L227.11,239.51 L227.79,239.50 L228.48,239.48 L229.16,239.46 L229.85,239.44 L230.53,239.42 L231.21,239.39 L231.90,239.36 L232.58,239.33 L233.26,239.29 L233.95,239.26 L234.63,239.22 L235.31,239.18 L235.99,239.14 L236.67,239.09 L237.36,239.04 L238.04,238.99 L238.72,238.94 L239.40,238.89 L240.08,238.83 L240.76,238.77 L241.44,238.71 L242.12,238.65 L242.80,238.59 L243.48,238.52 L244.16,238.45 L244.84,238.38 L245.52,238.31 L246.20,238.24 L246.87,238.16 L247.55,238.08 L248.23,238.00 L248.91,237.92 L249.59,237.84 L250.27,237.76 L250.94,237.67 L251.62,237.58 L252.30,237.50 L252.97,237.41 L253.65,237.31 L254.33,237.22 L255.00,237.13 L255.68,237.03 L256.36,236.93 L257.03,236.83 L257.71,236.73 L258.39,236.63 L259.06,236.53 L259.74,236.42 L260.41,236.32 L261.09,236.21 L261.76,236.10 L262.44,235.99 L263.11,235.88 L263.79,235.77 L264.46,235.66 L265.14,235.54 L265.81,235.43 L266.49,235.31 L267.16,235.20 L267.84,235.08 L268.51,234.96 L269.18,234.84 L269.86,234.72 L270.53,234.60 L271.21,234.48 L271.88,234.36 L272.55,234.23 L273.23,234.11 L273.90,233.99 L274.57,233.86 L275.25,233.73 L275.92,233.61 L276.60,233.48 L277.27,233.35 L277.94,233.23 L278.62,233.10 L279.29,232.97 L279.96,232.84 L280.63,232.71 L281.31,232.58 L281.98,232.45 L282.65,232.32 L283.33,232.19 L284.00,232.05 L284.67,231.92 L285.35,231.79 L286.02,231.66 L286.69,231.53 L287.36,231.39 L288.04,231.26 L288.71,231.13 L289.38,231.00 L290.06,230.86 L290.73,230.73 L291.40,230.60 L292.08,230.47 L292.75,230.34 L293.42,230.20 L294.09,230.07 L294.77,229.94 L295.44,229.81 L296.11,229.68 L296.79,229.55 L297.46,229.42 L298.13,229.28 L298.81,229.15 L299.48,229.03 L300.15,228.90 L300.83,228.77 L301.50,228.64 L302.17,228.51 L302.85,228.38 L303.52,228.26 L304.20,228.13 L304.87,228.01 L305.54,227.88 L306.22,227.76 L306.89,227.63 L307.57,227.51 L308.24,227.39 L308.91,227.27 L309.59,227.15 L310.26,227.03 L310.94,226.91 L311.61,226.79 L312.29,226.67 L312.96,226.56 L313.64,226.44 L314.31,226.33 L314.99,226.22 L315.66,226.10 L316.34,225.99 L317.02,225.88 L317.69,225.77 L318.37,225.67 L319.04,225.56 L319.72,225.46 L320.40,225.35 L321.07,225.25 L321.75,225.15 L322.43,225.05 L323.10,224.95 L323.78,224.85 L324.46,224.76 L325.13,224.66 L325.81,224.57 L326.49,224.48 L327.17,224.39 L327.85,224.30 L328.52,224.22 L329.20,224.13 L329.88,224.05 L330.56,223.97 L331.24,223.89 L331.92,223.81 L332.60,223.73 L333.28,223.66 L333.96,223.59 L334.64,223.52 L335.32,223.45 L336.00,223.38 L336.68,223.31 L337.36,223.25 L338.04,223.19 L338.72,223.13 L339.40,223.07 L340.09,223.02 L340.77,222.97 L341.45,222.92 L342.13,222.87 L342.82,222.82 L343.50,222.78 L344.18,222.74 L344.86,222.70 L345.55,222.66 L346.23,222.62 L346.92,222.59 L347.60,222.56 L348.29,222.53 L348.97,222.51 L349.66,222.48 L350.34,222.46 L351.03,222.45 L351.71,222.43 L352.40,222.42 L353.09,222.41 L353.77,222.40 L354.46,222.39 L355.15,222.39 L355.84,222.39 L356.53,222.40 L357.21,222.40 L357.90,222.41 L358.59,222.42 L359.28,222.44 L359.97,222.45 L360.66,222.48 L361.35,222.50 L362.04,222.52 L362.73,222.55 L363.42,222.59 L364.12,222.62 L364.81,222.66 L365.50,222.70" stroke="#1fd51f" stroke-width="1.1" stroke-dasharray="4.4 3.45" stroke-dashoffset="4.6" clip-path="url(#cp1)"/>
<path d="M216.80,189.60 L217.49,189.41 L218.19,189.23 L218.88,189.07 L219.57,188.91 L220.26,188.76 L220.95,188.62 L221.64,188.49 L222.33,188.37 L223.02,188.25 L223.70,188.15 L224.39,188.05 L225.08,187.97 L225.76,187.89 L226.45,187.82 L227.13,187.75 L227.82,187.70 L228.50,187.65 L229.18,187.61 L229.87,187.58 L230.55,187.56 L231.23,187.54 L231.91,187.53 L232.59,187.53 L233.27,187.54 L233.95,187.55 L234.63,187.57 L235.31,187.59 L235.99,187.62 L236.66,187.66 L237.34,187.70 L238.02,187.75 L238.69,187.81 L239.37,187.87 L240.05,187.94 L240.72,188.01 L241.40,188.09 L242.07,188.17 L242.75,188.26 L243.42,188.35 L244.09,188.45 L244.77,188.55 L245.44,188.66 L246.11,188.77 L246.79,188.89 L247.46,189.01 L248.13,189.13 L248.80,189.26 L249.47,189.39 L250.14,189.53 L250.82,189.67 L251.49,189.81 L252.16,189.96 L252.83,190.11 L253.50,190.26 L254.17,190.42 L254.84,190.58 L255.51,190.74 L256.18,190.90 L256.85,191.07 L257.52,191.24 L258.19,191.41 L258.86,191.58 L259.53,191.75 L260.19,191.93 L260.86,192.11 L261.53,192.29 L262.20,192.47 L262.87,192.65 L263.54,192.83 L264.21,193.02 L264.88,193.20 L265.55,193.39 L266.22,193.58 L266.89,193.76 L267.55,193.95 L268.22,194.14 L268.89,194.32 L269.56,194.51 L270.23,194.70 L270.90,194.89 L271.57,195.07 L272.24,195.26 L272.91,195.45 L273.58,195.63 L274.25,195.81 L274.92,196.00 L275.59,196.18 L276.26,196.36 L276.93,196.54 L277.60,196.72 L278.27,196.90 L278.94,197.08 L279.62,197.26 L280.29,197.44 L280.96,197.61 L281.63,197.79 L282.30,197.96 L282.97,198.14 L283.65,198.31 L284.32,198.48 L284.99,198.66 L285.66,198.83 L286.34,199.00 L287.01,199.17 L287.68,199.34 L288.35,199.50 L289.03,199.67 L289.70,199.84 L290.37,200.00 L291.05,200.16 L291.72,200.33 L292.40,200.49 L293.07,200.65 L293.74,200.81 L294.42,200.97 L295.09,201.13 L295.77,201.29 L296.44,201.45 L297.12,201.60 L297.79,201.76 L298.47,201.91 L299.14,202.06 L299.82,202.22 L300.49,202.37 L301.17,202.52 L301.85,202.67 L302.52,202.82 L303.20,202.96 L303.87,203.11 L304.55,203.26 L305.23,203.40 L305.90,203.54 L306.58,203.69 L307.26,203.83 L307.94,203.97 L308.61,204.11 L309.29,204.25 L309.97,204.38 L310.65,204.52 L311.33,204.65 L312.01,204.79 L312.68,204.92 L313.36,205.05 L314.04,205.19 L314.72,205.32 L315.40,205.44 L316.08,205.57 L316.76,205.70 L317.44,205.82 L318.12,205.95 L318.80,206.07 L319.48,206.19 L320.16,206.31 L320.84,206.43 L321.52,206.55 L322.20,206.67 L322.88,206.79 L323.57,206.90 L324.25,207.02 L324.93,207.13 L325.61,207.24 L326.29,207.35 L326.98,207.46 L327.66,207.57 L328.34,207.68 L329.02,207.78 L329.71,207.89 L330.39,207.99 L331.07,208.09 L331.76,208.19 L332.44,208.29 L333.12,208.39 L333.81,208.49 L334.49,208.58 L335.18,208.68 L335.86,208.77 L336.55,208.86 L337.23,208.96 L337.92,209.04 L338.60,209.13 L339.29,209.22 L339.98,209.31 L340.66,209.39 L341.35,209.47 L342.03,209.55 L342.72,209.63 L343.41,209.71 L344.10,209.79 L344.78,209.87 L345.47,209.94 L346.16,210.02 L346.85,210.09 L347.53,210.16 L348.22,210.23 L348.91,210.30 L349.60,210.36 L350.29,210.43 L350.98,210.49 L351.67,210.56 L352.36,210.62 L353.05,210.68 L353.74,210.73 L354.43,210.79 L355.12,210.85 L355.81,210.90 L356.50,210.95 L357.19,211.00 L357.88,211.05 L358.57,211.10 L359.26,211.15 L359.96,211.19 L360.65,211.24 L361.34,211.28 L362.03,211.32 L362.73,211.36 L363.42,211.40 L364.11,211.43 L364.81,211.47 L365.50,211.50" stroke="#2222ff" stroke-width="1.1" clip-path="url(#cp1)"/>
<path d="M216.80,200.70 L217.48,200.55 L218.17,200.41 L218.85,200.28 L219.53,200.15 L220.22,200.03 L220.90,199.92 L221.58,199.81 L222.27,199.71 L222.95,199.62 L223.63,199.53 L224.31,199.45 L224.99,199.37 L225.67,199.30 L226.35,199.24 L227.03,199.18 L227.71,199.13 L228.39,199.09 L229.07,199.05 L229.75,199.01 L230.43,198.99 L231.11,198.96 L231.79,198.94 L232.47,198.93 L233.15,198.92 L233.83,198.92 L234.51,198.92 L235.18,198.93 L235.86,198.94 L236.54,198.96 L237.22,198.98 L237.90,199.01 L238.57,199.04 L239.25,199.07 L239.93,199.11 L240.60,199.15 L241.28,199.20 L241.96,199.25 L242.63,199.31 L243.31,199.36 L243.99,199.43 L244.66,199.49 L245.34,199.56 L246.01,199.63 L246.69,199.71 L247.36,199.79 L248.04,199.87 L248.72,199.96 L249.39,200.04 L250.07,200.14 L250.74,200.23 L251.42,200.33 L252.09,200.43 L252.77,200.53 L253.44,200.63 L254.12,200.74 L254.79,200.85 L255.46,200.96 L256.14,201.07 L256.81,201.19 L257.49,201.31 L258.16,201.42 L258.84,201.54 L259.51,201.67 L260.19,201.79 L260.86,201.92 L261.53,202.04 L262.21,202.17 L262.88,202.30 L263.56,202.43 L264.23,202.56 L264.91,202.69 L265.58,202.83 L266.25,202.96 L266.93,203.10 L267.60,203.23 L268.28,203.37 L268.95,203.50 L269.62,203.64 L270.30,203.77 L270.97,203.91 L271.65,204.05 L272.32,204.18 L273.00,204.32 L273.67,204.46 L274.34,204.59 L275.02,204.73 L275.69,204.86 L276.37,205.00 L277.04,205.14 L277.72,205.27 L278.39,205.41 L279.07,205.54 L279.74,205.67 L280.42,205.81 L281.09,205.94 L281.77,206.08 L282.44,206.21 L283.12,206.34 L283.79,206.47 L284.47,206.61 L285.14,206.74 L285.82,206.87 L286.49,207.00 L287.17,207.13 L287.84,207.26 L288.52,207.39 L289.20,207.52 L289.87,207.65 L290.55,207.78 L291.22,207.90 L291.90,208.03 L292.57,208.16 L293.25,208.29 L293.93,208.41 L294.60,208.54 L295.28,208.66 L295.96,208.79 L296.63,208.91 L297.31,209.03 L297.99,209.15 L298.66,209.28 L299.34,209.40 L300.02,209.52 L300.69,209.64 L301.37,209.76 L302.05,209.88 L302.72,209.99 L303.40,210.11 L304.08,210.23 L304.76,210.34 L305.43,210.46 L306.11,210.57 L306.79,210.69 L307.47,210.80 L308.14,210.91 L308.82,211.02 L309.50,211.13 L310.18,211.24 L310.86,211.35 L311.53,211.46 L312.21,211.57 L312.89,211.67 L313.57,211.78 L314.25,211.88 L314.93,211.99 L315.61,212.09 L316.28,212.19 L316.96,212.29 L317.64,212.39 L318.32,212.49 L319.00,212.59 L319.68,212.69 L320.36,212.78 L321.04,212.88 L321.72,212.97 L322.40,213.06 L323.08,213.16 L323.76,213.25 L324.44,213.34 L325.12,213.42 L325.80,213.51 L326.48,213.60 L327.16,213.68 L327.84,213.77 L328.52,213.85 L329.21,213.93 L329.89,214.01 L330.57,214.09 L331.25,214.17 L331.93,214.25 L332.61,214.32 L333.29,214.40 L333.98,214.47 L334.66,214.55 L335.34,214.62 L336.02,214.69 L336.71,214.75 L337.39,214.82 L338.07,214.89 L338.75,214.95 L339.44,215.01 L340.12,215.08 L340.80,215.14 L341.49,215.20 L342.17,215.25 L342.85,215.31 L343.54,215.36 L344.22,215.42 L344.91,215.47 L345.59,215.52 L346.27,215.57 L346.96,215.62 L347.64,215.66 L348.33,215.71 L349.01,215.75 L349.70,215.79 L350.38,215.83 L351.07,215.87 L351.76,215.91 L352.44,215.94 L353.13,215.98 L353.81,216.01 L354.50,216.04 L355.19,216.07 L355.87,216.10 L356.56,216.12 L357.25,216.14 L357.93,216.17 L358.62,216.19 L359.31,216.21 L359.99,216.22 L360.68,216.24 L361.37,216.25 L362.06,216.27 L362.75,216.28 L363.43,216.28 L364.12,216.29 L364.81,216.30 L365.50,216.30" stroke="#2222ff" stroke-width="1.1" clip-path="url(#cp1)"/>
<path d="M216.80,213.50 L217.48,213.38 L218.16,213.27 L218.84,213.17 L219.52,213.07 L220.20,212.97 L220.88,212.88 L221.55,212.80 L222.23,212.71 L222.91,212.63 L223.59,212.56 L224.27,212.49 L224.95,212.42 L225.63,212.36 L226.31,212.30 L226.98,212.25 L227.66,212.20 L228.34,212.15 L229.02,212.11 L229.70,212.07 L230.38,212.04 L231.05,212.01 L231.73,211.98 L232.41,211.95 L233.09,211.93 L233.77,211.91 L234.44,211.90 L235.12,211.89 L235.80,211.88 L236.48,211.88 L237.16,211.88 L237.83,211.88 L238.51,211.88 L239.19,211.89 L239.87,211.90 L240.55,211.91 L241.22,211.93 L241.90,211.95 L242.58,211.97 L243.26,211.99 L243.93,212.02 L244.61,212.05 L245.29,212.08 L245.97,212.11 L246.64,212.15 L247.32,212.19 L248.00,212.23 L248.68,212.27 L249.35,212.32 L250.03,212.37 L250.71,212.42 L251.39,212.47 L252.06,212.52 L252.74,212.57 L253.42,212.63 L254.09,212.69 L254.77,212.75 L255.45,212.81 L256.13,212.88 L256.80,212.94 L257.48,213.01 L258.16,213.08 L258.84,213.15 L259.51,213.22 L260.19,213.29 L260.87,213.36 L261.54,213.44 L262.22,213.51 L262.90,213.59 L263.58,213.66 L264.25,213.74 L264.93,213.82 L265.61,213.90 L266.28,213.98 L266.96,214.06 L267.64,214.15 L268.32,214.23 L268.99,214.31 L269.67,214.40 L270.35,214.48 L271.03,214.57 L271.70,214.65 L272.38,214.74 L273.06,214.82 L273.73,214.91 L274.41,214.99 L275.09,215.08 L275.77,215.17 L276.44,215.25 L277.12,215.34 L277.80,215.43 L278.48,215.51 L279.15,215.60 L279.83,215.69 L280.51,215.77 L281.19,215.86 L281.86,215.95 L282.54,216.03 L283.22,216.12 L283.90,216.21 L284.57,216.30 L285.25,216.38 L285.93,216.47 L286.61,216.56 L287.28,216.65 L287.96,216.73 L288.64,216.82 L289.32,216.91 L289.99,216.99 L290.67,217.08 L291.35,217.17 L292.03,217.25 L292.71,217.34 L293.38,217.42 L294.06,217.51 L294.74,217.60 L295.42,217.68 L296.10,217.77 L296.77,217.85 L297.45,217.94 L298.13,218.02 L298.81,218.10 L299.49,218.19 L300.16,218.27 L300.84,218.35 L301.52,218.44 L302.20,218.52 L302.88,218.60 L303.56,218.68 L304.23,218.76 L304.91,218.84 L305.59,218.92 L306.27,219.00 L306.95,219.08 L307.63,219.16 L308.31,219.24 L308.98,219.32 L309.66,219.40 L310.34,219.47 L311.02,219.55 L311.70,219.62 L312.38,219.70 L313.06,219.77 L313.74,219.85 L314.42,219.92 L315.09,220.00 L315.77,220.07 L316.45,220.14 L317.13,220.21 L317.81,220.28 L318.49,220.35 L319.17,220.42 L319.85,220.49 L320.53,220.55 L321.21,220.62 L321.89,220.69 L322.57,220.75 L323.25,220.82 L323.93,220.88 L324.61,220.94 L325.29,221.00 L325.97,221.06 L326.65,221.12 L327.33,221.18 L328.01,221.24 L328.69,221.30 L329.37,221.36 L330.05,221.41 L330.73,221.47 L331.41,221.52 L332.09,221.57 L332.77,221.63 L333.45,221.68 L334.13,221.73 L334.81,221.78 L335.49,221.82 L336.17,221.87 L336.85,221.92 L337.53,221.96 L338.21,222.00 L338.89,222.05 L339.57,222.09 L340.25,222.13 L340.94,222.17 L341.62,222.20 L342.30,222.24 L342.98,222.28 L343.66,222.31 L344.34,222.34 L345.02,222.38 L345.70,222.41 L346.39,222.44 L347.07,222.47 L347.75,222.49 L348.43,222.52 L349.11,222.54 L349.80,222.57 L350.48,222.59 L351.16,222.61 L351.84,222.63 L352.52,222.64 L353.21,222.66 L353.89,222.67 L354.57,222.69 L355.25,222.70 L355.94,222.71 L356.62,222.72 L357.30,222.73 L357.98,222.73 L358.67,222.74 L359.35,222.74 L360.03,222.74 L360.72,222.74 L361.40,222.74 L362.08,222.74 L362.77,222.73 L363.45,222.73 L364.13,222.72 L364.82,222.71 L365.50,222.70" stroke="#2222ff" stroke-width="1.1" clip-path="url(#cp1)"/>
<path d="M216.80,229.90 L217.47,229.79 L218.15,229.68 L218.82,229.57 L219.50,229.47 L220.17,229.37 L220.85,229.27 L221.52,229.18 L222.20,229.09 L222.87,229.00 L223.55,228.91 L224.23,228.83 L224.90,228.75 L225.58,228.67 L226.25,228.60 L226.93,228.53 L227.60,228.46 L228.28,228.40 L228.96,228.33 L229.63,228.27 L230.31,228.21 L230.98,228.16 L231.66,228.11 L232.34,228.06 L233.01,228.01 L233.69,227.96 L234.37,227.92 L235.04,227.88 L235.72,227.84 L236.40,227.81 L237.07,227.77 L237.75,227.74 L238.43,227.71 L239.10,227.68 L239.78,227.66 L240.46,227.64 L241.14,227.62 L241.81,227.60 L242.49,227.58 L243.17,227.56 L243.84,227.55 L244.52,227.54 L245.20,227.53 L245.88,227.52 L246.56,227.52 L247.23,227.51 L247.91,227.51 L248.59,227.51 L249.27,227.51 L249.94,227.51 L250.62,227.52 L251.30,227.52 L251.98,227.53 L252.66,227.54 L253.33,227.55 L254.01,227.56 L254.69,227.57 L255.37,227.59 L256.05,227.60 L256.73,227.62 L257.40,227.64 L258.08,227.65 L258.76,227.67 L259.44,227.70 L260.12,227.72 L260.80,227.74 L261.48,227.77 L262.15,227.79 L262.83,227.82 L263.51,227.84 L264.19,227.87 L264.87,227.90 L265.55,227.93 L266.23,227.96 L266.91,227.99 L267.58,228.02 L268.26,228.06 L268.94,228.09 L269.62,228.12 L270.30,228.16 L270.98,228.19 L271.66,228.23 L272.34,228.27 L273.02,228.30 L273.70,228.34 L274.38,228.38 L275.06,228.41 L275.73,228.45 L276.41,228.49 L277.09,228.53 L277.77,228.57 L278.45,228.61 L279.13,228.65 L279.81,228.69 L280.49,228.73 L281.17,228.77 L281.85,228.81 L282.53,228.85 L283.21,228.89 L283.89,228.93 L284.57,228.97 L285.25,229.02 L285.93,229.06 L286.61,229.10 L287.28,229.14 L287.96,229.18 L288.64,229.23 L289.32,229.27 L290.00,229.31 L290.68,229.36 L291.36,229.40 L292.04,229.44 L292.72,229.49 L293.40,229.53 L294.08,229.57 L294.76,229.61 L295.44,229.66 L296.12,229.70 L296.80,229.74 L297.48,229.79 L298.16,229.83 L298.84,229.87 L299.52,229.92 L300.20,229.96 L300.88,230.00 L301.56,230.04 L302.24,230.09 L302.92,230.13 L303.60,230.17 L304.28,230.21 L304.96,230.25 L305.64,230.29 L306.32,230.34 L307.00,230.38 L307.68,230.42 L308.36,230.46 L309.04,230.50 L309.72,230.54 L310.40,230.58 L311.08,230.62 L311.76,230.65 L312.44,230.69 L313.12,230.73 L313.80,230.77 L314.48,230.81 L315.16,230.84 L315.84,230.88 L316.52,230.92 L317.20,230.95 L317.88,230.99 L318.56,231.02 L319.24,231.06 L319.92,231.09 L320.60,231.12 L321.28,231.16 L321.96,231.19 L322.64,231.22 L323.32,231.25 L324.00,231.28 L324.68,231.31 L325.37,231.34 L326.05,231.37 L326.73,231.40 L327.41,231.42 L328.09,231.45 L328.77,231.48 L329.45,231.50 L330.13,231.53 L330.81,231.55 L331.49,231.57 L332.17,231.60 L332.85,231.62 L333.53,231.64 L334.21,231.66 L334.89,231.68 L335.57,231.70 L336.25,231.71 L336.93,231.73 L337.61,231.75 L338.29,231.76 L338.97,231.78 L339.65,231.79 L340.33,231.80 L341.01,231.81 L341.69,231.82 L342.37,231.83 L343.05,231.84 L343.73,231.85 L344.41,231.86 L345.09,231.86 L345.77,231.87 L346.45,231.87 L347.13,231.87 L347.81,231.87 L348.49,231.87 L349.18,231.87 L349.86,231.87 L350.54,231.87 L351.22,231.86 L351.90,231.86 L352.58,231.85 L353.26,231.85 L353.94,231.84 L354.62,231.83 L355.30,231.82 L355.98,231.80 L356.66,231.79 L357.34,231.78 L358.02,231.76 L358.70,231.74 L359.38,231.73 L360.06,231.71 L360.74,231.68 L361.42,231.66 L362.10,231.64 L362.78,231.61 L363.46,231.59 L364.14,231.56 L364.82,231.53 L365.50,231.50" stroke="#2222ff" stroke-width="1.1" clip-path="url(#cp1)"/>
<path d="M216.80,254.25 L365.50,254.25" stroke="#2222ff" stroke-width="1.1" clip-path="url(#cp1)"/>
<path d="M413.80,300.70 L414.65,300.51 L415.50,300.33 L416.36,300.17 L417.23,300.03 L418.10,299.90 L418.98,299.79 L419.86,299.68 L420.74,299.59 L421.63,299.51 L422.53,299.44 L423.42,299.37 L424.32,299.31 L425.23,299.26 L426.13,299.21 L427.04,299.16 L427.95,299.11 L428.86,299.06 L429.77,299.01 L430.68,298.96 L431.59,298.90 L432.50,298.84 L433.40,298.78 L434.31,298.70 L435.22,298.62 L436.12,298.53 L437.03,298.42 L437.93,298.30 L438.82,298.17 L439.72,298.03 L440.61,297.87 L441.50,297.69 L442.38,297.49 L443.25,297.27 L444.13,297.04 L444.99,296.79 L445.85,296.52 L446.71,296.23 L447.55,295.93 L448.39,295.61 L449.23,295.27 L450.05,294.92 L450.87,294.55 L451.68,294.16 L452.48,293.76 L453.27,293.35 L454.05,292.92 L454.82,292.47 L455.58,292.01 L456.33,291.53 L457.07,291.04 L457.80,290.54 L458.51,290.02 L459.21,289.49 L459.90,288.95 L460.58,288.39 L461.25,287.82 L461.90,287.24 L462.53,286.65 L463.15,286.04 L463.76,285.42 L464.35,284.79 L464.93,284.15 L465.49,283.50 L466.04,282.83 L466.57,282.16 L467.10,281.48 L467.60,280.78 L468.10,280.08 L468.59,279.37 L469.06,278.65 L469.52,277.92 L469.97,277.18 L470.42,276.43 L470.85,275.68 L471.27,274.91 L471.68,274.14 L472.09,273.37 L472.48,272.58 L472.87,271.79 L473.25,271.00 L473.63,270.19 L473.99,269.39 L474.35,268.57 L474.71,267.75 L475.06,266.93 L475.40,266.10 L475.74,265.27 L476.08,264.44 L476.41,263.60 L476.74,262.75 L477.06,261.91 L477.38,261.06 L477.70,260.21 L478.02,259.35 L478.34,258.50 L478.66,257.64 L478.97,256.78 L479.28,255.92 L479.60,255.06 L479.92,254.20 L480.23,253.34 L480.55,252.48 L480.87,251.62 L481.19,250.76 L481.51,249.90 L481.84,249.04 L482.17,248.18 L482.50,247.33 L482.84,246.47 L483.19,245.62 L483.53,244.77 L483.89,243.93 L484.24,243.08 L484.61,242.24 L484.98,241.41 L485.36,240.58 L485.74,239.75 L486.14,238.93 L486.54,238.11 L486.95,237.30 L487.37,236.49 L487.80,235.69 L488.23,234.89 L488.68,234.10 L489.14,233.32 L489.60,232.54 L490.07,231.77 L490.56,231.00 L491.05,230.25 L491.55,229.50 L492.06,228.76 L492.58,228.02 L493.11,227.30 L493.64,226.58 L494.19,225.87 L494.74,225.17 L495.31,224.48 L495.88,223.79 L496.46,223.12 L497.05,222.46 L497.65,221.80 L498.25,221.16 L498.87,220.52 L499.49,219.90 L500.12,219.29 L500.77,218.68 L501.41,218.09 L502.07,217.51 L502.74,216.94 L503.41,216.39 L504.10,215.84 L504.79,215.31 L505.49,214.79 L506.20,214.28 L506.91,213.78 L507.64,213.30 L508.37,212.83 L509.11,212.37 L509.86,211.93 L510.62,211.50 L511.38,211.08 L512.15,210.68 L512.93,210.30 L513.72,209.92 L514.52,209.57 L515.32,209.22 L516.14,208.90 L516.96,208.59 L517.79,208.29 L518.62,208.01 L519.46,207.74 L520.31,207.48 L521.17,207.24 L522.03,207.02 L522.90,206.80 L523.77,206.60 L524.65,206.41 L525.53,206.23 L526.41,206.06 L527.31,205.90 L528.20,205.75 L529.10,205.61 L530.00,205.48 L530.91,205.36 L531.82,205.25 L532.73,205.15 L533.64,205.05 L534.56,204.96 L535.47,204.88 L536.39,204.81 L537.31,204.74 L538.23,204.67 L539.15,204.62 L540.07,204.56 L540.99,204.52 L541.91,204.47 L542.83,204.43 L543.75,204.40 L544.67,204.36 L545.58,204.33 L546.50,204.30 L547.41,204.27 L548.32,204.25 L549.23,204.22 L550.13,204.20 L551.03,204.18 L551.93,204.15 L552.82,204.13 L553.71,204.10 L554.59,204.07 L555.47,204.05 L556.35,204.01 L557.21,203.98 L558.08,203.94 L558.94,203.90 L559.79,203.86 L560.63,203.81 L561.47,203.76 L562.30,203.70" stroke="#222222" stroke-width="1.1" clip-path="url(#cp2)"/>
<path d="M413.80,299.60 L414.63,299.38 L415.46,299.17 L416.32,298.98 L417.18,298.80 L418.05,298.63 L418.93,298.47 L419.82,298.32 L420.72,298.18 L421.63,298.04 L422.54,297.91 L423.45,297.79 L424.37,297.66 L425.29,297.54 L426.22,297.41 L427.14,297.28 L428.07,297.15 L428.99,297.01 L429.91,296.87 L430.83,296.72 L431.74,296.55 L432.65,296.38 L433.56,296.20 L434.46,296.00 L435.35,295.78 L436.23,295.55 L437.10,295.30 L437.96,295.03 L438.81,294.74 L439.65,294.43 L440.48,294.10 L441.29,293.74 L442.08,293.35 L442.87,292.94 L443.63,292.50 L444.38,292.04 L445.12,291.55 L445.84,291.05 L446.55,290.52 L447.24,289.97 L447.92,289.40 L448.59,288.81 L449.24,288.20 L449.88,287.57 L450.50,286.93 L451.11,286.27 L451.71,285.60 L452.30,284.91 L452.87,284.21 L453.43,283.49 L453.98,282.76 L454.51,282.03 L455.04,281.28 L455.55,280.52 L456.04,279.75 L456.53,278.98 L457.01,278.20 L457.47,277.41 L457.92,276.62 L458.36,275.82 L458.79,275.02 L459.21,274.22 L459.62,273.41 L460.02,272.60 L460.41,271.78 L460.79,270.96 L461.16,270.14 L461.53,269.31 L461.88,268.48 L462.23,267.65 L462.57,266.81 L462.90,265.98 L463.22,265.14 L463.54,264.29 L463.85,263.45 L464.16,262.60 L464.46,261.75 L464.75,260.90 L465.04,260.05 L465.33,259.19 L465.61,258.33 L465.89,257.47 L466.16,256.61 L466.43,255.75 L466.70,254.89 L466.96,254.03 L467.23,253.16 L467.49,252.30 L467.75,251.43 L468.00,250.56 L468.26,249.69 L468.52,248.83 L468.77,247.96 L469.03,247.09 L469.29,246.22 L469.54,245.35 L469.80,244.48 L470.06,243.62 L470.33,242.75 L470.60,241.88 L470.87,241.02 L471.14,240.15 L471.42,239.29 L471.71,238.43 L472.00,237.57 L472.29,236.71 L472.59,235.86 L472.90,235.00 L473.22,234.15 L473.55,233.30 L473.88,232.46 L474.23,231.62 L474.58,230.78 L474.94,229.94 L475.32,229.11 L475.70,228.28 L476.10,227.45 L476.51,226.63 L476.93,225.82 L477.37,225.01 L477.82,224.21 L478.29,223.43 L478.77,222.66 L479.28,221.92 L479.80,221.19 L480.35,220.49 L480.92,219.82 L481.51,219.18 L482.13,218.57 L482.77,218.00 L483.44,217.47 L484.14,216.98 L484.87,216.53 L485.63,216.13 L486.42,215.78 L487.24,215.48 L488.08,215.21 L488.94,214.97 L489.82,214.76 L490.71,214.58 L491.61,214.40 L492.51,214.24 L493.41,214.09 L494.31,213.94 L495.21,213.80 L496.12,213.66 L497.02,213.52 L497.93,213.38 L498.83,213.25 L499.73,213.12 L500.64,212.98 L501.54,212.85 L502.44,212.71 L503.34,212.57 L504.24,212.43 L505.14,212.28 L506.04,212.14 L506.93,211.99 L507.83,211.84 L508.72,211.69 L509.62,211.54 L510.51,211.38 L511.40,211.23 L512.30,211.07 L513.19,210.92 L514.08,210.76 L514.97,210.60 L515.86,210.44 L516.75,210.28 L517.63,210.11 L518.52,209.95 L519.41,209.79 L520.30,209.63 L521.18,209.47 L522.07,209.30 L522.96,209.14 L523.84,208.98 L524.73,208.82 L525.62,208.65 L526.50,208.49 L527.39,208.33 L528.27,208.17 L529.16,208.01 L530.05,207.86 L530.93,207.70 L531.82,207.54 L532.70,207.39 L533.59,207.24 L534.48,207.08 L535.37,206.93 L536.25,206.78 L537.14,206.64 L538.03,206.49 L538.92,206.35 L539.81,206.21 L540.70,206.07 L541.59,205.94 L542.48,205.80 L543.37,205.67 L544.26,205.54 L545.15,205.42 L546.05,205.29 L546.94,205.17 L547.84,205.06 L548.73,204.94 L549.63,204.83 L550.53,204.73 L551.43,204.62 L552.33,204.53 L553.23,204.43 L554.13,204.34 L555.03,204.25 L555.94,204.17 L556.84,204.09 L557.75,204.01 L558.66,203.94 L559.56,203.87 L560.47,203.81 L561.39,203.75 L562.30,203.70" stroke="#ff1a1a" stroke-width="1.1" clip-path="url(#cp2)"/>
<path d="M437.54,303.99 L438.22,303.98 L438.89,303.97 L439.57,303.97 L440.25,303.96 L440.93,303.95 L441.61,303.95 L442.28,303.94 L442.96,303.93 L443.64,303.93 L444.32,303.92 L445.00,303.91 L445.67,303.91 L446.35,303.90 L447.03,303.90 L447.71,303.89 L448.39,303.89 L449.07,303.88 L449.74,303.88 L450.42,303.88 L451.10,303.87 L451.78,303.87 L452.46,303.86 L453.13,303.86 L453.81,303.86 L454.49,303.85 L455.17,303.85 L455.85,303.85 L456.52,303.84 L457.20,303.84 L457.88,303.84 L458.56,303.84 L459.24,303.84 L459.91,303.83 L460.59,303.83 L461.27,303.83 L461.95,303.83 L462.63,303.83 L463.30,303.83 L463.98,303.82 L464.66,303.82 L465.34,303.82 L466.02,303.82 L466.69,303.82 L467.37,303.82 L468.05,303.82 L468.73,303.82 L469.41,303.82 L470.08,303.82 L470.76,303.82 L471.44,303.82 L472.12,303.82 L472.80,303.82 L473.47,303.82 L474.15,303.83 L474.83,303.83 L475.51,303.83 L476.19,303.83 L476.87,303.83 L477.54,303.83 L478.22,303.83 L478.90,303.84 L479.58,303.84 L480.26,303.84 L480.93,303.84 L481.61,303.84 L482.29,303.85 L482.97,303.85 L483.65,303.85 L484.32,303.85 L485.00,303.86 L485.68,303.86 L486.36,303.86 L487.04,303.86 L487.71,303.87 L488.39,303.87 L489.07,303.87 L489.75,303.88 L490.43,303.88 L491.10,303.88 L491.78,303.89 L492.46,303.89 L493.14,303.90 L493.82,303.90 L494.49,303.90 L495.17,303.91 L495.85,303.91 L496.53,303.92 L497.21,303.92 L497.88,303.92 L498.56,303.93 L499.24,303.93 L499.92,303.94 L500.60,303.94 L501.27,303.95 L501.95,303.95 L502.63,303.95 L503.31,303.96 L503.99,303.96 L504.66,303.97 L505.34,303.97 L506.02,303.98 L506.70,303.98 L507.38,303.99 L508.05,303.99 L508.73,304.00 L509.41,304.00 L510.09,304.01 L510.77,304.01 L511.44,304.02 L512.12,304.03 L512.80,304.03 L513.48,304.04 L514.16,304.04 L514.83,304.05 L515.51,304.05 L516.19,304.06 L516.87,304.06 L517.55,304.07 L518.22,304.07 L518.90,304.08 L519.58,304.09 L520.26,304.09 L520.94,304.10" stroke="#ff1a1a" stroke-width="1.1" stroke-dasharray="4.4 3.45" stroke-dashoffset="4.6" clip-path="url(#cp2)"/>
<path d="M413.80,301.70 L414.48,301.69 L415.15,301.68 L415.83,301.66 L416.50,301.65 L417.18,301.62 L417.86,301.59 L418.53,301.56 L419.21,301.53 L419.89,301.49 L420.57,301.45 L421.25,301.41 L421.92,301.36 L422.60,301.31 L423.28,301.26 L423.96,301.21 L424.64,301.15 L425.32,301.09 L426.00,301.03 L426.68,300.97 L427.36,300.90 L428.04,300.83 L428.73,300.77 L429.41,300.70 L430.09,300.63 L430.77,300.55 L431.45,300.48 L432.13,300.41 L432.81,300.33 L433.50,300.25 L434.18,300.18 L434.86,300.10 L435.54,300.02 L436.22,299.95 L436.91,299.87 L437.59,299.79 L438.27,299.71 L438.95,299.64 L439.64,299.56 L440.32,299.49 L441.00,299.41 L441.68,299.34 L442.37,299.26 L443.05,299.19 L443.73,299.12 L444.41,299.05 L445.09,298.98 L445.78,298.92 L446.46,298.85 L447.14,298.79 L447.82,298.73 L448.50,298.67 L449.19,298.61 L449.87,298.56 L450.55,298.51 L451.23,298.46 L451.91,298.41 L452.59,298.37 L453.27,298.33 L453.95,298.29 L454.63,298.26 L455.31,298.23 L455.99,298.20 L456.67,298.18 L457.35,298.16 L458.03,298.15 L458.71,298.14 L459.39,298.13 L460.07,298.13 L460.74,298.13 L461.42,298.14 L462.10,298.15 L462.77,298.16 L463.45,298.18 L464.13,298.21 L464.80,298.24 L465.48,298.28 L466.15,298.31 L466.83,298.36 L467.50,298.41 L468.18,298.46 L468.85,298.52 L469.53,298.58 L470.20,298.64 L470.87,298.71 L471.55,298.78 L472.22,298.86 L472.89,298.94 L473.56,299.02 L474.24,299.11 L474.91,299.19 L475.58,299.29 L476.25,299.38 L476.92,299.48 L477.59,299.58 L478.26,299.69 L478.93,299.80 L479.60,299.91 L480.27,300.02 L480.94,300.13 L481.61,300.25 L482.28,300.37 L482.95,300.49 L483.62,300.61 L484.29,300.74 L484.96,300.86 L485.62,300.99 L486.29,301.12 L486.96,301.25 L487.63,301.37 L488.30,301.50 L488.97,301.63 L489.64,301.76 L490.30,301.88 L490.97,302.01 L491.64,302.13 L492.31,302.26 L492.98,302.38 L493.65,302.50 L494.32,302.62 L494.99,302.73 L495.66,302.85 L496.33,302.96 L497.00,303.06 L497.67,303.17 L498.34,303.27 L499.02,303.37 L499.69,303.46 L500.36,303.55 L501.03,303.64 L501.71,303.72 L502.38,303.80" stroke="#1fd51f" stroke-width="1.1" clip-path="url(#cp2)"/>
<path d="M413.80,222.50 L414.83,222.79 L415.83,223.12 L416.78,223.47 L417.70,223.86 L418.58,224.28 L419.43,224.72 L420.24,225.19 L421.02,225.69 L421.77,226.22 L422.49,226.77 L423.18,227.35 L423.84,227.95 L424.48,228.57 L425.08,229.21 L425.67,229.87 L426.23,230.56 L426.77,231.26 L427.29,231.98 L427.78,232.72 L428.26,233.47 L428.72,234.24 L429.17,235.02 L429.60,235.82 L430.01,236.63 L430.42,237.45 L430.81,238.28 L431.19,239.13 L431.56,239.98 L431.92,240.84 L432.28,241.70 L432.63,242.58 L432.97,243.45 L433.31,244.34 L433.65,245.22 L433.99,246.11 L434.32,247.00 L434.66,247.89 L435.00,248.78 L435.34,249.68 L435.69,250.56 L436.04,251.45 L436.40,252.33 L436.77,253.21 L437.15,254.08 L437.54,254.95 L437.94,255.81 L438.35,256.66 L438.77,257.50 L439.21,258.33 L439.67,259.16 L440.14,259.97 L440.63,260.76 L441.15,261.55 L441.68,262.31 L442.23,263.05 L442.81,263.77 L443.41,264.44 L444.03,265.07 L444.69,265.64 L445.37,266.17 L446.07,266.62 L446.81,267.01 L447.58,267.32 L448.37,267.54 L449.20,267.68 L450.06,267.73 L450.94,267.70 L451.83,267.59 L452.72,267.42 L453.62,267.19 L454.51,266.91 L455.39,266.57 L456.26,266.19 L457.09,265.77 L457.90,265.32 L458.68,264.84 L459.43,264.33 L460.15,263.79 L460.86,263.22 L461.54,262.63 L462.20,262.01 L462.84,261.37 L463.46,260.71 L464.06,260.02 L464.65,259.32 L465.22,258.61 L465.78,257.88 L466.33,257.13 L466.86,256.37 L467.39,255.60 L467.91,254.82 L468.42,254.04 L468.93,253.24 L469.43,252.44 L469.93,251.64 L470.43,250.84 L470.92,250.03 L471.42,249.22 L471.91,248.41 L472.41,247.60 L472.90,246.79 L473.39,245.97 L473.88,245.16 L474.38,244.34 L474.87,243.53 L475.36,242.71 L475.86,241.90 L476.35,241.09 L476.85,240.27 L477.34,239.46 L477.84,238.65 L478.34,237.85 L478.84,237.04 L479.35,236.24 L479.85,235.44 L480.36,234.64 L480.88,233.85 L481.39,233.06 L481.91,232.28 L482.43,231.50 L482.96,230.72 L483.49,229.95 L484.03,229.18 L484.57,228.42 L485.11,227.67 L485.66,226.92 L486.21,226.17 L486.77,225.44 L487.34,224.71 L487.91,223.98 L488.49,223.27 L489.07,222.56 L489.66,221.86 L490.26,221.17 L490.86,220.49 L491.47,219.81 L492.09,219.15 L492.72,218.49 L493.35,217.84 L493.99,217.21 L494.65,216.58 L495.30,215.97 L495.97,215.36 L496.65,214.77 L497.34,214.18 L498.03,213.61 L498.74,213.05 L499.45,212.51 L500.18,211.97 L500.91,211.45 L501.65,210.94 L502.41,210.44 L503.17,209.95 L503.94,209.48 L504.72,209.01 L505.51,208.56 L506.30,208.12 L507.11,207.69 L507.92,207.27 L508.74,206.86 L509.57,206.46 L510.40,206.07 L511.24,205.69 L512.09,205.32 L512.94,204.96 L513.80,204.61 L514.66,204.27 L515.53,203.94 L516.41,203.62 L517.29,203.31 L518.18,203.00 L519.07,202.71 L519.96,202.42 L520.87,202.15 L521.77,201.88 L522.68,201.62 L523.59,201.36 L524.50,201.12 L525.42,200.88 L526.35,200.65 L527.27,200.43 L528.20,200.22 L529.13,200.01 L530.06,199.81 L530.99,199.62 L531.93,199.43 L532.86,199.25 L533.80,199.08 L534.74,198.91 L535.68,198.75 L536.62,198.60 L537.56,198.45 L538.50,198.30 L539.44,198.17 L540.38,198.03 L541.32,197.91 L542.26,197.78 L543.20,197.67 L544.14,197.56 L545.08,197.45 L546.01,197.35 L546.94,197.25 L547.87,197.15 L548.80,197.06 L549.73,196.98 L550.65,196.89 L551.57,196.81 L552.49,196.74 L553.40,196.67 L554.31,196.60 L555.22,196.53 L556.12,196.47 L557.02,196.41 L557.91,196.35 L558.80,196.30 L559.68,196.25 L560.56,196.20 L561.43,196.15 L562.30,196.10" stroke="#1fd51f" stroke-width="1.1" stroke-dasharray="4.4 3.45" stroke-dashoffset="4.6" clip-path="url(#cp2)"/>
<path d="M413.80,211.10 L414.96,211.00 L416.10,210.87 L417.24,210.71 L418.36,210.54 L419.46,210.34 L420.56,210.11 L421.64,209.86 L422.71,209.59 L423.76,209.30 L424.81,208.99 L425.84,208.65 L426.86,208.29 L427.86,207.92 L428.85,207.52 L429.83,207.10 L430.80,206.66 L431.75,206.20 L432.69,205.72 L433.62,205.23 L434.54,204.71 L435.44,204.18 L436.33,203.63 L437.21,203.06 L438.08,202.47 L438.93,201.87 L439.77,201.26 L440.60,200.62 L441.42,199.97 L442.22,199.31 L443.01,198.63 L443.79,197.94 L444.55,197.23 L445.30,196.51 L446.04,195.77 L446.77,195.02 L447.49,194.26 L448.19,193.49 L448.88,192.71 L449.56,191.91 L450.23,191.11 L450.88,190.29 L451.52,189.46 L452.15,188.62 L452.76,187.77 L453.37,186.92 L453.96,186.05 L454.54,185.17 L455.11,184.29 L455.66,183.40 L456.20,182.50 L456.73,181.59 L457.25,180.68 L457.76,179.76 L458.25,178.84 L458.73,177.90 L459.21,176.96 L459.67,176.02 L460.12,175.07 L460.56,174.11 L460.99,173.15 L461.41,172.19 L461.82,171.22 L462.23,170.24 L462.62,169.26 L463.01,168.27 L463.39,167.28 L463.76,166.29 L464.13,165.29 L464.48,164.28 L464.83,163.28 L465.18,162.27 L465.52,161.26 L465.85,160.24 L466.18,159.22 L466.50,158.20 L466.82,157.17 L467.14,156.14 L467.45,155.11 L467.76,154.08 L468.06,153.05 L468.36,152.01 L468.66,150.97 L468.96,149.93 L469.25,148.89 L469.54,147.85 L469.84,146.80 L470.13,145.76 L470.42,144.71 L470.71,143.67 L470.99,142.62 L471.28,141.58 L471.57,140.53 L471.87,139.48 L472.16,138.44 L472.45,137.39 L472.75,136.35 L473.05,135.30 L473.35,134.26 L473.65,133.22 L473.96,132.18 L474.27,131.14 L474.58,130.10 L474.90,129.07 L475.22,128.03 L475.55,127.00 L475.88,125.97 L476.22,124.95 L476.57,123.92 L476.92,122.90 L477.27,121.88 L477.64,120.87 L478.01,119.86 L478.39,118.85 L478.77,117.84 L479.16,116.84 L479.56,115.85 L479.97,114.85 L480.38,113.86 L480.81,112.88 L481.24,111.90 L481.67,110.92 L482.12,109.95 L482.57,108.98 L483.03,108.02 L483.50,107.07 L483.98,106.11 L484.46,105.17 L484.95,104.23 L485.45,103.29 L485.96,102.36 L486.48,101.44 L487.00,100.52 L487.54,99.60 L488.08,98.70 L488.63,97.80 L489.18,96.90 L489.75,96.02 L490.33,95.13 L490.91,94.26 L491.50,93.39 L492.10,92.53 L492.71,91.68 L493.33,90.83 L493.96,89.99 L494.60,89.16 L495.24,88.34 L495.89,87.52 L496.56,86.71 L497.23,85.91 L497.91,85.12 L498.60,84.33 L499.30,83.56 L500.01,82.79 L500.73,82.03 L501.46,81.28 L502.20,80.54 L502.94,79.81 L503.70,79.08 L504.47,78.37 L505.24,77.66 L506.03,76.97 L506.82,76.28 L507.63,75.60 L508.44,74.94 L509.27,74.28 L510.10,73.63 L510.95,73.00 L511.80,72.37 L512.66,71.75 L513.53,71.14 L514.41,70.54 L515.30,69.96 L516.20,69.38 L517.10,68.81 L518.01,68.25 L518.93,67.70 L519.86,67.16 L520.79,66.62 L521.73,66.10 L522.68,65.59 L523.63,65.09 L524.59,64.59 L525.56,64.11 L526.53,63.63 L527.50,63.16 L528.48,62.71 L529.47,62.26 L530.46,61.82 L531.46,61.39 L532.46,60.97 L533.46,60.56 L534.47,60.15 L535.48,59.76 L536.49,59.37 L537.51,59.00 L538.53,58.63 L539.56,58.27 L540.58,57.92 L541.61,57.58 L542.64,57.24 L543.67,56.92 L544.71,56.60 L545.74,56.29 L546.78,55.99 L547.81,55.70 L548.85,55.42 L549.89,55.15 L550.93,54.88 L551.97,54.62 L553.00,54.38 L554.04,54.13 L555.08,53.90 L556.12,53.68 L557.15,53.46 L558.18,53.25 L559.22,53.05 L560.25,52.86 L561.27,52.68 L562.30,52.50" stroke="#2222ff" stroke-width="1.1" clip-path="url(#cp2)"/>
<path d="M413.80,216.30 L414.75,216.22 L415.69,216.12 L416.63,216.01 L417.56,215.88 L418.50,215.74 L419.42,215.59 L420.35,215.42 L421.27,215.24 L422.18,215.04 L423.09,214.83 L424.00,214.61 L424.90,214.37 L425.79,214.12 L426.68,213.85 L427.57,213.57 L428.45,213.28 L429.32,212.98 L430.19,212.66 L431.05,212.33 L431.90,211.99 L432.75,211.63 L433.60,211.27 L434.43,210.89 L435.26,210.49 L436.09,210.09 L436.90,209.67 L437.71,209.25 L438.52,208.81 L439.31,208.35 L440.10,207.89 L440.88,207.42 L441.65,206.93 L442.41,206.43 L443.17,205.92 L443.92,205.40 L444.66,204.87 L445.39,204.33 L446.11,203.78 L446.83,203.22 L447.53,202.65 L448.23,202.06 L448.92,201.47 L449.59,200.87 L450.26,200.25 L450.92,199.63 L451.57,199.00 L452.21,198.36 L452.84,197.70 L453.46,197.04 L454.07,196.37 L454.66,195.69 L455.25,195.00 L455.83,194.30 L456.39,193.60 L456.95,192.88 L457.49,192.16 L458.03,191.42 L458.55,190.68 L459.06,189.93 L459.56,189.18 L460.04,188.41 L460.52,187.64 L460.99,186.86 L461.44,186.07 L461.89,185.28 L462.33,184.48 L462.76,183.67 L463.17,182.86 L463.59,182.04 L463.99,181.21 L464.39,180.38 L464.77,179.55 L465.16,178.71 L465.53,177.86 L465.90,177.01 L466.26,176.16 L466.62,175.30 L466.98,174.44 L467.32,173.58 L467.67,172.71 L468.01,171.84 L468.35,170.97 L468.68,170.09 L469.01,169.22 L469.34,168.34 L469.67,167.46 L469.99,166.57 L470.31,165.69 L470.64,164.81 L470.96,163.92 L471.28,163.04 L471.60,162.15 L471.92,161.27 L472.24,160.38 L472.57,159.50 L472.89,158.62 L473.22,157.74 L473.55,156.86 L473.88,155.98 L474.22,155.10 L474.56,154.23 L474.90,153.36 L475.24,152.49 L475.60,151.62 L475.95,150.76 L476.31,149.90 L476.68,149.04 L477.05,148.19 L477.43,147.34 L477.81,146.50 L478.20,145.66 L478.60,144.82 L479.01,144.00 L479.43,143.17 L479.85,142.35 L480.28,141.54 L480.72,140.74 L481.17,139.94 L481.63,139.15 L482.10,138.36 L482.58,137.58 L483.07,136.81 L483.57,136.05 L484.07,135.30 L484.59,134.55 L485.12,133.81 L485.66,133.08 L486.21,132.37 L486.77,131.66 L487.33,130.96 L487.91,130.27 L488.51,129.59 L489.11,128.92 L489.72,128.27 L490.34,127.62 L490.98,126.99 L491.62,126.36 L492.28,125.75 L492.95,125.16 L493.63,124.57 L494.32,124.00 L495.02,123.44 L495.74,122.89 L496.46,122.36 L497.19,121.83 L497.94,121.32 L498.69,120.82 L499.45,120.34 L500.22,119.86 L501.00,119.39 L501.78,118.94 L502.58,118.50 L503.38,118.07 L504.19,117.65 L505.01,117.24 L505.83,116.84 L506.66,116.45 L507.50,116.07 L508.34,115.70 L509.19,115.34 L510.04,115.00 L510.90,114.66 L511.77,114.33 L512.63,114.01 L513.50,113.70 L514.38,113.41 L515.26,113.11 L516.14,112.83 L517.03,112.56 L517.92,112.29 L518.82,112.04 L519.71,111.78 L520.62,111.54 L521.52,111.30 L522.42,111.07 L523.33,110.85 L524.24,110.63 L525.15,110.42 L526.07,110.21 L526.99,110.01 L527.90,109.81 L528.82,109.62 L529.74,109.43 L530.66,109.25 L531.59,109.06 L532.51,108.89 L533.43,108.71 L534.36,108.54 L535.28,108.37 L536.21,108.20 L537.13,108.03 L538.06,107.87 L538.98,107.71 L539.90,107.54 L540.82,107.38 L541.75,107.22 L542.67,107.06 L543.59,106.89 L544.50,106.73 L545.42,106.57 L546.33,106.40 L547.25,106.24 L548.16,106.07 L549.06,105.90 L549.97,105.73 L550.87,105.55 L551.77,105.37 L552.67,105.19 L553.57,105.01 L554.46,104.82 L555.34,104.63 L556.23,104.43 L557.11,104.23 L557.98,104.02 L558.86,103.81 L559.72,103.59 L560.59,103.37 L561.45,103.14 L562.30,102.90" stroke="#2222ff" stroke-width="1.1" clip-path="url(#cp2)"/>
<path d="M413.80,222.10 L414.57,222.02 L415.34,221.94 L416.11,221.85 L416.88,221.75 L417.66,221.65 L418.44,221.54 L419.22,221.42 L420.00,221.30 L420.78,221.17 L421.56,221.04 L422.34,220.90 L423.12,220.75 L423.90,220.59 L424.68,220.43 L425.47,220.26 L426.25,220.09 L427.03,219.91 L427.81,219.72 L428.58,219.52 L429.36,219.32 L430.13,219.11 L430.91,218.89 L431.68,218.66 L432.45,218.43 L433.21,218.19 L433.98,217.94 L434.74,217.68 L435.49,217.42 L436.25,217.14 L437.00,216.86 L437.75,216.58 L438.49,216.28 L439.23,215.97 L439.96,215.66 L440.69,215.34 L441.42,215.01 L442.14,214.67 L442.85,214.32 L443.56,213.97 L444.27,213.60 L444.96,213.23 L445.65,212.85 L446.34,212.46 L447.02,212.06 L447.69,211.65 L448.36,211.23 L449.02,210.80 L449.67,210.36 L450.31,209.92 L450.95,209.46 L451.58,209.00 L452.20,208.52 L452.82,208.04 L453.43,207.55 L454.03,207.06 L454.63,206.55 L455.22,206.03 L455.80,205.51 L456.38,204.98 L456.94,204.44 L457.51,203.90 L458.06,203.34 L458.61,202.78 L459.15,202.21 L459.69,201.64 L460.22,201.05 L460.74,200.46 L461.25,199.87 L461.76,199.26 L462.27,198.65 L462.76,198.03 L463.25,197.41 L463.73,196.78 L464.21,196.14 L464.68,195.50 L465.15,194.85 L465.60,194.20 L466.05,193.54 L466.50,192.87 L466.94,192.20 L467.37,191.52 L467.80,190.84 L468.22,190.15 L468.63,189.46 L469.04,188.76 L469.44,188.06 L469.84,187.35 L470.24,186.64 L470.63,185.94 L471.03,185.23 L471.42,184.52 L471.81,183.81 L472.20,183.10 L472.60,182.39 L473.00,181.69 L473.40,180.99 L473.80,180.30 L474.21,179.61 L474.63,178.92 L475.05,178.25 L475.48,177.58 L475.91,176.91 L476.36,176.26 L476.82,175.62 L477.28,174.98 L477.76,174.36 L478.25,173.75 L478.75,173.15 L479.26,172.56 L479.78,171.98 L480.31,171.42 L480.85,170.87 L481.40,170.33 L481.96,169.80 L482.53,169.29 L483.12,168.79 L483.71,168.30 L484.31,167.83 L484.92,167.37 L485.55,166.93 L486.18,166.50 L486.82,166.09 L487.48,165.69 L488.14,165.31 L488.82,164.94 L489.50,164.60 L490.20,164.26 L490.90,163.95 L491.61,163.65 L492.34,163.37 L493.07,163.11 L493.81,162.86 L494.56,162.62 L495.32,162.40 L496.08,162.19 L496.85,161.99 L497.62,161.80 L498.40,161.63 L499.19,161.46 L499.98,161.30 L500.77,161.15 L501.57,161.01 L502.37,160.87 L503.17,160.74 L503.97,160.61 L504.77,160.49 L505.58,160.37 L506.38,160.25 L507.19,160.14 L507.99,160.02 L508.79,159.91 L509.59,159.80 L510.39,159.68 L511.19,159.57 L511.99,159.46 L512.79,159.35 L513.58,159.24 L514.38,159.13 L515.17,159.02 L515.96,158.91 L516.75,158.80 L517.54,158.70 L518.33,158.59 L519.12,158.48 L519.91,158.38 L520.70,158.27 L521.49,158.16 L522.27,158.06 L523.06,157.95 L523.84,157.85 L524.63,157.75 L525.41,157.64 L526.20,157.54 L526.98,157.44 L527.76,157.33 L528.54,157.23 L529.33,157.13 L530.11,157.03 L530.89,156.93 L531.67,156.83 L532.45,156.73 L533.23,156.63 L534.01,156.53 L534.79,156.43 L535.57,156.34 L536.35,156.24 L537.13,156.14 L537.91,156.04 L538.69,155.95 L539.47,155.85 L540.25,155.75 L541.04,155.66 L541.82,155.56 L542.60,155.47 L543.38,155.37 L544.16,155.28 L544.94,155.19 L545.72,155.09 L546.51,155.00 L547.29,154.91 L548.07,154.81 L548.86,154.72 L549.64,154.63 L550.43,154.54 L551.21,154.45 L552.00,154.36 L552.79,154.27 L553.58,154.18 L554.37,154.09 L555.15,154.00 L555.94,153.91 L556.74,153.82 L557.53,153.73 L558.32,153.64 L559.11,153.55 L559.91,153.46 L560.71,153.37 L561.50,153.29 L562.30,153.20" stroke="#2222ff" stroke-width="1.1" clip-path="url(#cp2)"/>
<path d="M413.80,231.50 L414.50,231.49 L415.20,231.47 L415.90,231.46 L416.60,231.44 L417.30,231.43 L418.00,231.41 L418.71,231.40 L419.41,231.38 L420.12,231.36 L420.82,231.34 L421.53,231.32 L422.24,231.30 L422.95,231.28 L423.66,231.25 L424.37,231.22 L425.08,231.19 L425.79,231.16 L426.50,231.12 L427.21,231.08 L427.92,231.04 L428.63,231.00 L429.34,230.95 L430.05,230.90 L430.76,230.84 L431.46,230.78 L432.17,230.72 L432.88,230.65 L433.59,230.58 L434.30,230.50 L435.00,230.42 L435.71,230.33 L436.41,230.24 L437.12,230.14 L437.82,230.04 L438.52,229.93 L439.22,229.82 L439.92,229.70 L440.62,229.57 L441.31,229.44 L442.01,229.30 L442.70,229.15 L443.39,228.99 L444.08,228.83 L444.77,228.66 L445.45,228.48 L446.13,228.30 L446.81,228.10 L447.48,227.89 L448.15,227.68 L448.82,227.45 L449.48,227.21 L450.14,226.97 L450.79,226.71 L451.44,226.44 L452.08,226.15 L452.71,225.86 L453.34,225.55 L453.96,225.23 L454.58,224.89 L455.19,224.55 L455.79,224.18 L456.39,223.81 L456.98,223.42 L457.56,223.02 L458.14,222.61 L458.71,222.19 L459.28,221.76 L459.85,221.33 L460.41,220.89 L460.97,220.44 L461.53,219.99 L462.08,219.53 L462.63,219.07 L463.19,218.61 L463.74,218.15 L464.29,217.69 L464.84,217.23 L465.39,216.77 L465.95,216.32 L466.50,215.87 L467.06,215.42 L467.62,214.98 L468.19,214.55 L468.76,214.13 L469.33,213.71 L469.91,213.31 L470.49,212.91 L471.08,212.53 L471.67,212.16 L472.26,211.79 L472.86,211.44 L473.47,211.10 L474.08,210.77 L474.69,210.45 L475.31,210.14 L475.94,209.85 L476.57,209.57 L477.20,209.30 L477.84,209.04 L478.48,208.80 L479.13,208.57 L479.78,208.35 L480.44,208.14 L481.10,207.95 L481.77,207.78 L482.44,207.62 L483.11,207.47 L483.79,207.33 L484.48,207.21 L485.17,207.11 L485.86,207.01 L486.56,206.93 L487.26,206.86 L487.97,206.80 L488.67,206.75 L489.38,206.70 L490.09,206.67 L490.81,206.63 L491.52,206.61 L492.24,206.59 L492.96,206.57 L493.68,206.56 L494.40,206.55 L495.11,206.54 L495.83,206.54 L496.55,206.53 L497.27,206.52 L497.99,206.51 L498.71,206.50 L499.42,206.48 L500.14,206.47 L500.86,206.45 L501.57,206.44 L502.28,206.42 L503.00,206.40 L503.71,206.38 L504.42,206.36 L505.13,206.34 L505.85,206.31 L506.56,206.29 L507.27,206.26 L507.98,206.24 L508.68,206.21 L509.39,206.18 L510.10,206.15 L510.81,206.12 L511.52,206.09 L512.22,206.06 L512.93,206.03 L513.64,206.00 L514.34,205.96 L515.05,205.93 L515.75,205.89 L516.46,205.86 L517.16,205.82 L517.87,205.78 L518.57,205.75 L519.27,205.71 L519.98,205.67 L520.68,205.63 L521.38,205.59 L522.08,205.55 L522.79,205.51 L523.49,205.47 L524.19,205.43 L524.89,205.39 L525.60,205.35 L526.30,205.31 L527.00,205.27 L527.70,205.23 L528.40,205.19 L529.10,205.15 L529.80,205.11 L530.51,205.06 L531.21,205.02 L531.91,204.98 L532.61,204.94 L533.31,204.90 L534.01,204.86 L534.72,204.82 L535.42,204.78 L536.12,204.74 L536.82,204.70 L537.52,204.66 L538.23,204.62 L538.93,204.58 L539.63,204.54 L540.33,204.50 L541.04,204.47 L541.74,204.43 L542.44,204.39 L543.15,204.36 L543.85,204.32 L544.55,204.29 L545.26,204.25 L545.96,204.22 L546.67,204.19 L547.38,204.15 L548.08,204.12 L548.79,204.09 L549.49,204.06 L550.20,204.03 L550.91,204.00 L551.62,203.98 L552.33,203.95 L553.03,203.93 L553.74,203.90 L554.45,203.88 L555.16,203.86 L555.87,203.84 L556.59,203.82 L557.30,203.80 L558.01,203.78 L558.72,203.76 L559.44,203.75 L560.15,203.73 L560.87,203.72 L561.58,203.71 L562.30,203.70" stroke="#2222ff" stroke-width="1.1" clip-path="url(#cp2)"/>
<path d="M413.80,254.25 L562.30,254.25" stroke="#2222ff" stroke-width="1.1" clip-path="url(#cp2)"/>
</g>
<g class="t">
<rect x="19.8" y="52.5" width="149.2" height="251.9" fill="none" stroke="#000" stroke-width="1.05"/>
<path d="M49.6,304.4 v-6.3 M79.5,304.4 v-6.3 M109.3,304.4 v-6.3 M139.2,304.4 v-6.3 M19.8,254.0 h5.6 M169.0,254.0 h-5.6 M19.8,203.6 h5.6 M169.0,203.6 h-5.6 M19.8,153.3 h5.6 M169.0,153.3 h-5.6 M19.8,102.9 h5.6 M169.0,102.9 h-5.6" stroke="#000" stroke-width="1"/>
<text x="13.3" y="310" text-anchor="end">0</text>
<text x="13.3" y="209" text-anchor="end">2</text>
<text x="13.3" y="159" text-anchor="end">3</text>
<text x="13.3" y="108" text-anchor="end">4</text>
<text x="13.3" y="58" text-anchor="end">5</text>
<text x="21.1" y="320.2" text-anchor="middle">0</text>
<text x="50.9" y="320.2" text-anchor="middle">0.2</text>
<text x="80.7" y="320.2" text-anchor="middle">0.4</text>
<text x="110.6" y="320.2" text-anchor="middle">0.6</text>
<text x="140.4" y="320.2" text-anchor="middle">0.8</text>
<text x="170.2" y="320.2" text-anchor="middle">1</text>
<text x="94.4" y="336" style="font-size:17px" text-anchor="middle">ξ</text>
<text x="162.8" y="68.6" text-anchor="end">(a)</text>
<rect x="216.75" y="52.5" width="148.8" height="251.9" fill="none" stroke="#000" stroke-width="1.05"/>
<path d="M246.5,304.4 v-6.3 M276.3,304.4 v-6.3 M306.0,304.4 v-6.3 M335.8,304.4 v-6.3 M216.75,254.0 h5.6 M365.55,254.0 h-5.6 M216.75,203.6 h5.6 M365.55,203.6 h-5.6 M216.75,153.3 h5.6 M365.55,153.3 h-5.6 M216.75,102.9 h5.6 M365.55,102.9 h-5.6" stroke="#000" stroke-width="1"/>
<text x="210.2" y="310" text-anchor="end">0</text>
<text x="210.2" y="260" text-anchor="end">1</text>
<text x="210.2" y="209" text-anchor="end">2</text>
<text x="210.2" y="159" text-anchor="end">3</text>
<text x="210.2" y="108" text-anchor="end">4</text>
<text x="210.2" y="58" text-anchor="end">5</text>
<text x="218.0" y="320.2" text-anchor="middle">0</text>
<text x="247.8" y="320.2" text-anchor="middle">0.2</text>
<text x="277.5" y="320.2" text-anchor="middle">0.4</text>
<text x="307.3" y="320.2" text-anchor="middle">0.6</text>
<text x="337.0" y="320.2" text-anchor="middle">0.8</text>
<text x="366.8" y="320.2" text-anchor="middle">1</text>
<text x="291.1" y="336" style="font-size:17px" text-anchor="middle">ξ</text>
<text x="221.8" y="68.6" text-anchor="start">(b)</text>
<rect x="413.8" y="52.5" width="148.6" height="251.9" fill="none" stroke="#000" stroke-width="1.05"/>
<path d="M443.5,304.4 v-6.3 M473.2,304.4 v-6.3 M502.9,304.4 v-6.3 M532.6,304.4 v-6.3 M413.8,254.0 h5.6 M562.35,254.0 h-5.6 M413.8,203.6 h5.6 M562.35,203.6 h-5.6 M413.8,153.3 h5.6 M562.35,153.3 h-5.6 M413.8,102.9 h5.6 M562.35,102.9 h-5.6" stroke="#000" stroke-width="1"/>
<text x="407.3" y="310" text-anchor="end">0</text>
<text x="407.3" y="260" text-anchor="end">1</text>
<text x="407.3" y="209" text-anchor="end">2</text>
<text x="407.3" y="159" text-anchor="end">3</text>
<text x="407.3" y="108" text-anchor="end">4</text>
<text x="407.3" y="58" text-anchor="end">5</text>
<text x="415.1" y="320.2" text-anchor="middle">0</text>
<text x="444.8" y="320.2" text-anchor="middle">0.2</text>
<text x="474.5" y="320.2" text-anchor="middle">0.4</text>
<text x="504.2" y="320.2" text-anchor="middle">0.6</text>
<text x="533.9" y="320.2" text-anchor="middle">0.8</text>
<text x="563.6" y="320.2" text-anchor="middle">1</text>
<text x="488.1" y="336" style="font-size:17px" text-anchor="middle">ξ</text>
<text x="418.9" y="68.6" text-anchor="start">(c)</text>
<text transform="translate(14.4,255.7) rotate(-90)" text-anchor="middle">rel. units</text>
</g>
<g class="t">
<text x="108.3" y="12.7" text-anchor="end" textLength="83.5" lengthAdjust="spacing"><tspan font-style="italic">R</tspan>( <tspan font-style="italic">E2</tspan>; 0<tspan font-size="7.6" dx="-0.5" dy="3.9">2</tspan><tspan dy="-3.9">=&gt; 2</tspan><tspan font-size="7.6" dx="-0.4" dy="3.9">1</tspan><tspan dy="-3.9">)</tspan></text>
<text x="108.3" y="36.5" text-anchor="end" textLength="83.5" lengthAdjust="spacing"><tspan font-style="italic">R</tspan>( <tspan font-style="italic">E2</tspan>; 0<tspan font-size="7.6" dx="-0.5" dy="3.9">3</tspan><tspan dy="-3.9">=&gt; 2</tspan><tspan font-size="7.6" dx="-0.4" dy="3.9">1</tspan><tspan dy="-3.9">)</tspan></text>
<text x="302.6" y="12.7" text-anchor="end" textLength="68.2" lengthAdjust="spacing">ground band</text>
<text x="305.3" y="36.5" text-anchor="end" textLength="83.5" lengthAdjust="spacing"><tspan font-style="italic">R</tspan>( <tspan font-style="italic">E2</tspan>; 2<tspan font-size="7.6" dx="-0.5" dy="3.9">2</tspan><tspan dy="-3.9">=&gt; 2</tspan><tspan font-size="7.6" dx="-0.4" dy="3.9">1</tspan><tspan dy="-3.9">)</tspan></text>
<text x="501.8" y="12.7" text-anchor="end" textLength="83.5" lengthAdjust="spacing"><tspan font-style="italic">R</tspan>( <tspan font-style="italic">E2</tspan>; 3<tspan font-size="7.6" dx="-1.5" dy="3.9">1</tspan><tspan dy="-3.9" dx="3.0">=&gt; 2</tspan><tspan font-size="7.6" dx="-0.4" dy="3.9">1</tspan><tspan dy="-3.9">)</tspan></text>
<text x="501.8" y="36.5" text-anchor="end" textLength="83.5" lengthAdjust="spacing"><tspan font-style="italic">R</tspan>( <tspan font-style="italic">E2</tspan>; 3<tspan font-size="7.6" dx="-1.5" dy="3.9">1</tspan><tspan dy="-3.9" dx="3.0">=&gt; 2</tspan><tspan font-size="7.6" dx="-0.4" dy="3.9">2</tspan><tspan dy="-3.9">)</tspan></text>
</g>
<g fill="none">
<path d="M20.5,304.4 H168.4" stroke="#00a000" stroke-width="1.05" opacity="0.28"/>
<path d="M125.6,8.4 H156.6" stroke="#ff1a1a" stroke-width="1.1"/>
<path d="M125.6,32.2 H156.6" stroke="#ff1a1a" stroke-width="1.1" stroke-dasharray="4.4 3.45"/>
<path d="M322.6,8.4 H353.6" stroke="#2222ff" stroke-width="1.1"/>
<path d="M322.6,32.2 H353.6" stroke="#222222" stroke-width="1.1"/>
<path d="M519.2,8.4 H550.2" stroke="#1fd51f" stroke-width="1.1"/>
<path d="M519.2,32.2 H550.2" stroke="#1fd51f" stroke-width="1.1" stroke-dasharray="4.4 3.45"/>
</g>
</svg>
</body></html>
